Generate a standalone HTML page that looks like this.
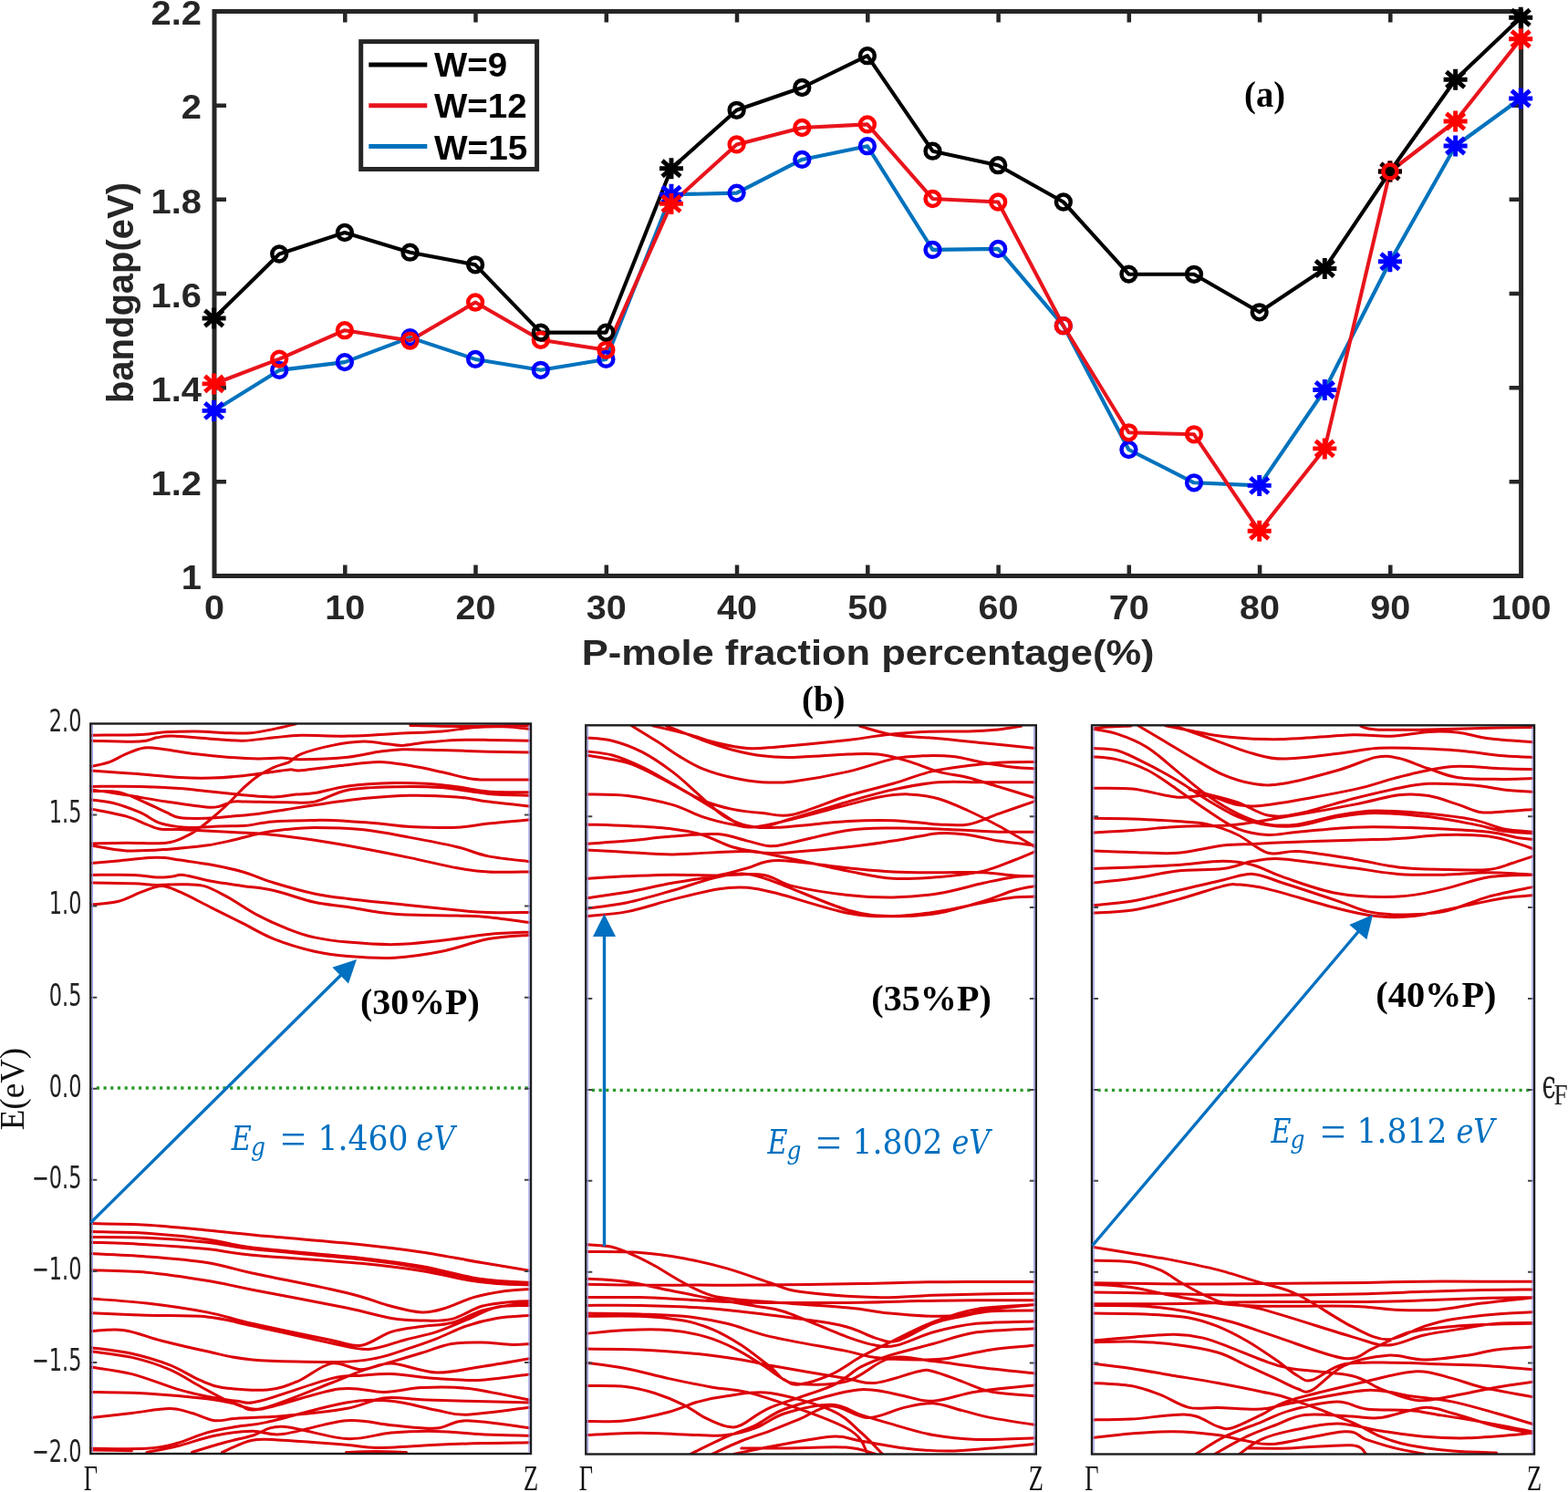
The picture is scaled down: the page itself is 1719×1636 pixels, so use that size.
<!DOCTYPE html>
<html><head><meta charset="utf-8"><title>Bandgap figure</title>
<style>html,body{margin:0;padding:0;background:#fff;} svg{display:block;}</style></head>
<body>
<svg width="1719" height="1636" viewBox="0 0 1719 1636">
<rect width="1719" height="1636" fill="#fff"/>
<rect x="235.0" y="12.5" width="1432.6" height="619.0" fill="none" stroke="#262626" stroke-width="5"/>
<path d="M378.3,631.5V619.5M378.3,12.5V24.5M521.5,631.5V619.5M521.5,12.5V24.5M664.8,631.5V619.5M664.8,12.5V24.5M808.0,631.5V619.5M808.0,12.5V24.5M951.3,631.5V619.5M951.3,12.5V24.5M1094.6,631.5V619.5M1094.6,12.5V24.5M1237.8,631.5V619.5M1237.8,12.5V24.5M1381.1,631.5V619.5M1381.1,12.5V24.5M1524.3,631.5V619.5M1524.3,12.5V24.5M235.0,115.7H248.0M1667.6,115.7H1654.6M235.0,218.8H248.0M1667.6,218.8H1654.6M235.0,322.0H248.0M1667.6,322.0H1654.6M235.0,425.2H248.0M1667.6,425.2H1654.6M235.0,528.3H248.0M1667.6,528.3H1654.6" stroke="#262626" stroke-width="4.5" fill="none"/>
<text transform="translate(235.0,678.6) scale(1.06,1)" font-family="Liberation Sans, Arial, sans-serif" font-weight="bold" font-size="37.3" fill="#262626" text-anchor="middle">0</text>
<text transform="translate(378.3,678.6) scale(1.06,1)" font-family="Liberation Sans, Arial, sans-serif" font-weight="bold" font-size="37.3" fill="#262626" text-anchor="middle">10</text>
<text transform="translate(521.5,678.6) scale(1.06,1)" font-family="Liberation Sans, Arial, sans-serif" font-weight="bold" font-size="37.3" fill="#262626" text-anchor="middle">20</text>
<text transform="translate(664.8,678.6) scale(1.06,1)" font-family="Liberation Sans, Arial, sans-serif" font-weight="bold" font-size="37.3" fill="#262626" text-anchor="middle">30</text>
<text transform="translate(808.0,678.6) scale(1.06,1)" font-family="Liberation Sans, Arial, sans-serif" font-weight="bold" font-size="37.3" fill="#262626" text-anchor="middle">40</text>
<text transform="translate(951.3,678.6) scale(1.06,1)" font-family="Liberation Sans, Arial, sans-serif" font-weight="bold" font-size="37.3" fill="#262626" text-anchor="middle">50</text>
<text transform="translate(1094.6,678.6) scale(1.06,1)" font-family="Liberation Sans, Arial, sans-serif" font-weight="bold" font-size="37.3" fill="#262626" text-anchor="middle">60</text>
<text transform="translate(1237.8,678.6) scale(1.06,1)" font-family="Liberation Sans, Arial, sans-serif" font-weight="bold" font-size="37.3" fill="#262626" text-anchor="middle">70</text>
<text transform="translate(1381.1,678.6) scale(1.06,1)" font-family="Liberation Sans, Arial, sans-serif" font-weight="bold" font-size="37.3" fill="#262626" text-anchor="middle">80</text>
<text transform="translate(1524.3,678.6) scale(1.06,1)" font-family="Liberation Sans, Arial, sans-serif" font-weight="bold" font-size="37.3" fill="#262626" text-anchor="middle">90</text>
<text transform="translate(1667.6,678.6) scale(1.06,1)" font-family="Liberation Sans, Arial, sans-serif" font-weight="bold" font-size="37.3" fill="#262626" text-anchor="middle">100</text>
<text transform="translate(221,27.2) scale(1.07,1)" font-family="Liberation Sans, Arial, sans-serif" font-weight="bold" font-size="37.3" fill="#262626" text-anchor="end">2.2</text>
<text transform="translate(221,130.4) scale(1.07,1)" font-family="Liberation Sans, Arial, sans-serif" font-weight="bold" font-size="37.3" fill="#262626" text-anchor="end">2</text>
<text transform="translate(221,233.5) scale(1.07,1)" font-family="Liberation Sans, Arial, sans-serif" font-weight="bold" font-size="37.3" fill="#262626" text-anchor="end">1.8</text>
<text transform="translate(221,336.7) scale(1.07,1)" font-family="Liberation Sans, Arial, sans-serif" font-weight="bold" font-size="37.3" fill="#262626" text-anchor="end">1.6</text>
<text transform="translate(221,439.9) scale(1.07,1)" font-family="Liberation Sans, Arial, sans-serif" font-weight="bold" font-size="37.3" fill="#262626" text-anchor="end">1.4</text>
<text transform="translate(221,543.0) scale(1.07,1)" font-family="Liberation Sans, Arial, sans-serif" font-weight="bold" font-size="37.3" fill="#262626" text-anchor="end">1.2</text>
<text transform="translate(221,646.2) scale(1.07,1)" font-family="Liberation Sans, Arial, sans-serif" font-weight="bold" font-size="37.3" fill="#262626" text-anchor="end">1</text>
<text x="637.8" y="729" font-family="Liberation Sans, Arial, sans-serif" font-weight="bold" font-size="38.7" fill="#262626" textLength="627.8" lengthAdjust="spacingAndGlyphs">P-mole fraction percentage(%)</text>
<text transform="translate(146,321) rotate(-90)" font-family="Liberation Sans, Arial, sans-serif" font-weight="bold" font-size="40" fill="#262626" text-anchor="middle">bandgap(eV)</text>
<polyline points="234.6,450.4 306.2,405.9 377.9,397.1 449.5,370.1 521.1,393.9 592.8,405.8 664.4,393.9 736.0,213.3 807.6,211.6 879.3,174.9 950.9,160.2 1022.5,273.9 1094.2,272.9 1165.8,357.2 1237.4,493.0 1309.0,529.3 1380.7,532.4 1452.3,427.5 1523.9,286.8 1595.6,160.0 1667.2,108.0" stroke="#0072BD" stroke-width="4.1" fill="none" stroke-linejoin="round"/>
<polyline points="234.6,420.9 306.2,393.6 377.9,362.2 449.5,373.6 521.1,331.5 592.8,372.8 664.4,383.8 736.0,223.4 807.6,158.4 879.3,140.0 950.9,136.4 1022.5,218.0 1094.2,221.5 1165.8,357.2 1237.4,474.3 1309.0,476.3 1380.7,582.3 1452.3,491.9 1523.9,188.0 1595.6,133.0 1667.2,42.8" stroke="#E8141C" stroke-width="4.1" fill="none" stroke-linejoin="round"/>
<polyline points="234.6,349.0 306.2,278.5 377.9,255.0 449.5,276.7 521.1,290.3 592.8,364.6 664.4,364.6 736.0,184.8 807.6,120.8 879.3,96.0 950.9,61.2 1022.5,165.7 1094.2,181.2 1165.8,221.5 1237.4,300.6 1309.0,300.8 1380.7,342.3 1452.3,294.5 1523.9,188.0 1595.6,87.3 1667.2,19.2" stroke="#000000" stroke-width="4.1" fill="none" stroke-linejoin="round"/>
<path d="M221.6,450.4H247.6M234.6,438.9V461.9M224.6,441.8L244.6,459.0M224.6,459.0L244.6,441.8" stroke="#0000FF" stroke-width="4.9" fill="none"/>
<circle cx="306.2" cy="405.9" r="7.9" stroke="#0000FF" stroke-width="4.5" fill="none"/>
<circle cx="377.9" cy="397.1" r="7.9" stroke="#0000FF" stroke-width="4.5" fill="none"/>
<circle cx="449.5" cy="370.1" r="7.9" stroke="#0000FF" stroke-width="4.5" fill="none"/>
<circle cx="521.1" cy="393.9" r="7.9" stroke="#0000FF" stroke-width="4.5" fill="none"/>
<circle cx="592.8" cy="405.8" r="7.9" stroke="#0000FF" stroke-width="4.5" fill="none"/>
<circle cx="664.4" cy="393.9" r="7.9" stroke="#0000FF" stroke-width="4.5" fill="none"/>
<path d="M723.0,213.3H749.0M736.0,201.8V224.8M726.0,204.7L746.0,221.9M726.0,221.9L746.0,204.7" stroke="#0000FF" stroke-width="4.9" fill="none"/>
<circle cx="807.6" cy="211.6" r="7.9" stroke="#0000FF" stroke-width="4.5" fill="none"/>
<circle cx="879.3" cy="174.9" r="7.9" stroke="#0000FF" stroke-width="4.5" fill="none"/>
<circle cx="950.9" cy="160.2" r="7.9" stroke="#0000FF" stroke-width="4.5" fill="none"/>
<circle cx="1022.5" cy="273.9" r="7.9" stroke="#0000FF" stroke-width="4.5" fill="none"/>
<circle cx="1094.2" cy="272.9" r="7.9" stroke="#0000FF" stroke-width="4.5" fill="none"/>
<circle cx="1165.8" cy="357.2" r="7.9" stroke="#0000FF" stroke-width="4.5" fill="none"/>
<circle cx="1237.4" cy="493.0" r="7.9" stroke="#0000FF" stroke-width="4.5" fill="none"/>
<circle cx="1309.0" cy="529.3" r="7.9" stroke="#0000FF" stroke-width="4.5" fill="none"/>
<path d="M1367.7,532.4H1393.7M1380.7,520.9V543.9M1370.7,523.8L1390.7,541.0M1370.7,541.0L1390.7,523.8" stroke="#0000FF" stroke-width="4.9" fill="none"/>
<path d="M1439.3,427.5H1465.3M1452.3,416.0V439.0M1442.3,418.9L1462.3,436.1M1442.3,436.1L1462.3,418.9" stroke="#0000FF" stroke-width="4.9" fill="none"/>
<path d="M1510.9,286.8H1536.9M1523.9,275.3V298.3M1513.9,278.2L1533.9,295.4M1513.9,295.4L1533.9,278.2" stroke="#0000FF" stroke-width="4.9" fill="none"/>
<path d="M1582.6,160.0H1608.6M1595.6,148.5V171.5M1585.6,151.4L1605.6,168.6M1585.6,168.6L1605.6,151.4" stroke="#0000FF" stroke-width="4.9" fill="none"/>
<path d="M1654.2,108.0H1680.2M1667.2,96.5V119.5M1657.2,99.4L1677.2,116.6M1657.2,116.6L1677.2,99.4" stroke="#0000FF" stroke-width="4.9" fill="none"/>
<path d="M221.6,420.9H247.6M234.6,409.4V432.4M224.6,412.3L244.6,429.5M224.6,429.5L244.6,412.3" stroke="#FF0000" stroke-width="4.9" fill="none"/>
<circle cx="306.2" cy="393.6" r="7.9" stroke="#FF0000" stroke-width="4.5" fill="none"/>
<circle cx="377.9" cy="362.2" r="7.9" stroke="#FF0000" stroke-width="4.5" fill="none"/>
<circle cx="449.5" cy="373.6" r="7.9" stroke="#FF0000" stroke-width="4.5" fill="none"/>
<circle cx="521.1" cy="331.5" r="7.9" stroke="#FF0000" stroke-width="4.5" fill="none"/>
<circle cx="592.8" cy="372.8" r="7.9" stroke="#FF0000" stroke-width="4.5" fill="none"/>
<circle cx="664.4" cy="383.8" r="7.9" stroke="#FF0000" stroke-width="4.5" fill="none"/>
<path d="M723.0,223.4H749.0M736.0,211.9V234.9M726.0,214.8L746.0,232.0M726.0,232.0L746.0,214.8" stroke="#FF0000" stroke-width="4.9" fill="none"/>
<circle cx="807.6" cy="158.4" r="7.9" stroke="#FF0000" stroke-width="4.5" fill="none"/>
<circle cx="879.3" cy="140.0" r="7.9" stroke="#FF0000" stroke-width="4.5" fill="none"/>
<circle cx="950.9" cy="136.4" r="7.9" stroke="#FF0000" stroke-width="4.5" fill="none"/>
<circle cx="1022.5" cy="218.0" r="7.9" stroke="#FF0000" stroke-width="4.5" fill="none"/>
<circle cx="1094.2" cy="221.5" r="7.9" stroke="#FF0000" stroke-width="4.5" fill="none"/>
<circle cx="1165.8" cy="357.2" r="7.9" stroke="#FF0000" stroke-width="4.5" fill="none"/>
<circle cx="1237.4" cy="474.3" r="7.9" stroke="#FF0000" stroke-width="4.5" fill="none"/>
<circle cx="1309.0" cy="476.3" r="7.9" stroke="#FF0000" stroke-width="4.5" fill="none"/>
<path d="M1367.7,582.3H1393.7M1380.7,570.8V593.8M1370.7,573.7L1390.7,590.9M1370.7,590.9L1390.7,573.7" stroke="#FF0000" stroke-width="4.9" fill="none"/>
<path d="M1439.3,491.9H1465.3M1452.3,480.4V503.4M1442.3,483.3L1462.3,500.5M1442.3,500.5L1462.3,483.3" stroke="#FF0000" stroke-width="4.9" fill="none"/>
<path d="M1510.9,188.0H1536.9M1523.9,176.5V199.5M1513.9,179.4L1533.9,196.6M1513.9,196.6L1533.9,179.4" stroke="#FF0000" stroke-width="4.9" fill="none"/>
<path d="M1582.6,133.0H1608.6M1595.6,121.5V144.5M1585.6,124.4L1605.6,141.6M1585.6,141.6L1605.6,124.4" stroke="#FF0000" stroke-width="4.9" fill="none"/>
<path d="M1654.2,42.8H1680.2M1667.2,31.3V54.3M1657.2,34.2L1677.2,51.4M1657.2,51.4L1677.2,34.2" stroke="#FF0000" stroke-width="4.9" fill="none"/>
<path d="M221.6,349.0H247.6M234.6,337.5V360.5M224.6,340.4L244.6,357.6M224.6,357.6L244.6,340.4" stroke="#000000" stroke-width="4.9" fill="none"/>
<circle cx="306.2" cy="278.5" r="7.9" stroke="#000000" stroke-width="4.5" fill="none"/>
<circle cx="377.9" cy="255.0" r="7.9" stroke="#000000" stroke-width="4.5" fill="none"/>
<circle cx="449.5" cy="276.7" r="7.9" stroke="#000000" stroke-width="4.5" fill="none"/>
<circle cx="521.1" cy="290.3" r="7.9" stroke="#000000" stroke-width="4.5" fill="none"/>
<circle cx="592.8" cy="364.6" r="7.9" stroke="#000000" stroke-width="4.5" fill="none"/>
<circle cx="664.4" cy="364.6" r="7.9" stroke="#000000" stroke-width="4.5" fill="none"/>
<path d="M723.0,184.8H749.0M736.0,173.3V196.3M726.0,176.2L746.0,193.4M726.0,193.4L746.0,176.2" stroke="#000000" stroke-width="4.9" fill="none"/>
<circle cx="807.6" cy="120.8" r="7.9" stroke="#000000" stroke-width="4.5" fill="none"/>
<circle cx="879.3" cy="96.0" r="7.9" stroke="#000000" stroke-width="4.5" fill="none"/>
<circle cx="950.9" cy="61.2" r="7.9" stroke="#000000" stroke-width="4.5" fill="none"/>
<circle cx="1022.5" cy="165.7" r="7.9" stroke="#000000" stroke-width="4.5" fill="none"/>
<circle cx="1094.2" cy="181.2" r="7.9" stroke="#000000" stroke-width="4.5" fill="none"/>
<circle cx="1165.8" cy="221.5" r="7.9" stroke="#000000" stroke-width="4.5" fill="none"/>
<circle cx="1237.4" cy="300.6" r="7.9" stroke="#000000" stroke-width="4.5" fill="none"/>
<circle cx="1309.0" cy="300.8" r="7.9" stroke="#000000" stroke-width="4.5" fill="none"/>
<circle cx="1380.7" cy="342.3" r="7.9" stroke="#000000" stroke-width="4.5" fill="none"/>
<path d="M1439.3,294.5H1465.3M1452.3,283.0V306.0M1442.3,285.9L1462.3,303.1M1442.3,303.1L1462.3,285.9" stroke="#000000" stroke-width="4.9" fill="none"/>
<path d="M1510.9,188.0H1536.9M1523.9,176.5V199.5M1513.9,179.4L1533.9,196.6M1513.9,196.6L1533.9,179.4" stroke="#000000" stroke-width="4.9" fill="none"/>
<path d="M1582.6,87.3H1608.6M1595.6,75.8V98.8M1585.6,78.7L1605.6,95.9M1585.6,95.9L1605.6,78.7" stroke="#000000" stroke-width="4.9" fill="none"/>
<path d="M1654.2,19.2H1680.2M1667.2,7.7V30.7M1657.2,10.6L1677.2,27.8M1657.2,27.8L1677.2,10.6" stroke="#000000" stroke-width="4.9" fill="none"/>
<circle cx="1523.9" cy="188.0" r="7.5" stroke="#FF0000" stroke-width="4.5" fill="none"/>
<circle cx="1523.9" cy="188" r="3.5" fill="#000"/>
<rect x="395.7" y="45.6" width="192.9" height="139.9" fill="#fff" stroke="#262626" stroke-width="5"/>
<line x1="404.3" y1="71" x2="468.3" y2="71" stroke="#000000" stroke-width="5"/>
<line x1="404.3" y1="115.7" x2="468.3" y2="115.7" stroke="#E8141C" stroke-width="5"/>
<line x1="404.3" y1="160.5" x2="468.3" y2="160.5" stroke="#0072BD" stroke-width="5"/>
<text x="476" y="84.4" font-family="Liberation Sans, Arial, sans-serif" font-weight="bold" font-size="37.3" fill="#000" lengthAdjust="spacingAndGlyphs" textLength="80">W=9</text>
<text x="476" y="129.2" font-family="Liberation Sans, Arial, sans-serif" font-weight="bold" font-size="37.3" fill="#000" lengthAdjust="spacingAndGlyphs" textLength="101.7">W=12</text>
<text x="476" y="174.6" font-family="Liberation Sans, Arial, sans-serif" font-weight="bold" font-size="37.3" fill="#000" lengthAdjust="spacingAndGlyphs" textLength="102.4">W=15</text>
<text x="1364.1" y="116.5" font-family="Liberation Serif, Times New Roman, serif" font-weight="bold" font-size="40.5" fill="#000" textLength="45" lengthAdjust="spacingAndGlyphs">(a)</text>
<text x="879" y="780" font-family="Liberation Serif, Times New Roman, serif" font-weight="bold" font-size="39" fill="#000" textLength="47.6" lengthAdjust="spacingAndGlyphs">(b)</text>
<clipPath id="clip0"><rect x="99.3" y="793.5" width="482.7" height="800.5"/></clipPath>
<line x1="105.8" y1="1193.0" x2="580.0" y2="1193.0" stroke="#2a9a2a" stroke-width="3.3" stroke-dasharray="3.2 4.5"/>
<path clip-path="url(#clip0)" d="M100.0,806.3C109.2,806.1 141.5,806.0 154.9,805.4C168.3,804.8 170.6,803.4 180.6,802.8C190.6,802.2 203.4,801.9 214.8,802.0C226.2,802.1 239.0,803.4 249.0,803.7C259.0,804.0 266.1,804.4 274.7,803.7C283.2,803.0 292.0,801.0 300.3,799.4C308.6,797.8 320.3,794.7 324.3,793.8M100.0,812.2C108.9,812.4 141.2,813.7 153.2,813.1C165.2,812.5 166.0,809.8 172.0,808.8C178.0,807.8 179.1,806.9 189.1,807.1C199.1,807.3 219.1,809.4 231.9,810.2C244.7,811.1 254.7,812.4 266.1,812.2C277.5,812.0 289.7,809.8 300.3,808.8C310.9,807.8 316.5,806.6 330.0,806.3C343.5,806.0 364.3,807.4 381.4,807.1C398.5,806.8 415.6,805.4 432.7,804.5C449.8,803.6 469.8,803.1 484.1,802.0C498.4,800.9 506.9,798.6 518.3,797.7C529.7,796.8 541.9,796.5 552.5,796.8C563.1,797.1 577.1,799.0 582.0,799.4M449.8,795.5C458.4,795.7 485.5,796.4 501.2,796.5C516.9,796.6 530.5,796.2 544.0,796.0C557.5,795.8 575.7,795.6 582.0,795.5M100.0,840.5C103.5,839.6 114.4,837.6 120.7,835.3C127.0,833.0 131.5,829.4 137.8,826.8C144.1,824.2 151.2,820.8 158.3,819.9C165.4,819.0 171.2,820.6 180.6,821.7C190.0,822.9 203.4,825.4 214.8,826.8C226.2,828.2 237.6,829.4 249.0,830.2C260.4,831.1 273.2,831.8 283.2,831.9C293.2,832.0 301.1,831.0 308.9,831.1C316.7,831.2 317.9,832.9 330.0,832.8C342.1,832.6 367.1,831.6 381.4,830.2C395.7,828.8 405.6,825.6 415.6,824.2C425.6,822.8 429.9,822.0 441.3,821.7C452.7,821.4 468.4,822.1 484.1,822.5C499.8,822.9 519.1,823.8 535.4,824.2C551.7,824.6 574.2,825.0 582.0,825.1M100.0,924.9C106.4,924.8 124.9,924.3 138.6,924.2C152.3,924.1 171.4,925.4 182.3,924.2C193.2,923.0 198.1,919.6 204.1,916.9C210.1,914.2 213.8,911.6 218.6,908.2C223.4,904.8 228.3,900.6 233.2,896.5C238.0,892.4 244.1,886.9 247.7,883.5C251.3,880.1 251.4,879.9 255.0,876.2C258.6,872.6 264.6,866.0 269.5,861.6C274.4,857.2 279.0,853.4 284.1,850.0C289.2,846.6 294.7,843.8 300.3,841.3C305.9,838.8 312.6,837.7 317.5,835.3C322.4,832.9 322.2,829.8 330.0,826.8C337.8,823.8 352.8,819.7 364.2,817.4C375.6,815.1 388.5,813.4 398.5,813.1C408.5,812.8 417.0,815.0 424.1,815.7C431.2,816.4 434.2,817.7 441.3,817.4C448.4,817.1 456.9,815.0 466.9,814.0C476.9,813.0 489.8,811.8 501.2,811.4C512.6,811.0 521.9,811.2 535.4,811.4C548.9,811.5 574.2,812.1 582.0,812.3M100.0,845.1C107.7,845.6 130.0,847.0 146.3,848.2C162.6,849.4 183.4,851.7 197.7,852.5C212.0,853.3 220.5,853.3 231.9,853.0C243.3,852.7 256.1,851.7 266.1,850.7C276.1,849.8 283.2,848.4 291.8,847.3C300.4,846.2 311.1,844.3 317.5,843.9C323.9,843.5 320.8,845.5 330.0,844.8C339.2,844.1 358.5,841.2 372.8,839.6C387.1,838.0 402.8,835.4 415.6,835.4C428.4,835.4 438.4,837.8 449.8,839.6C461.2,841.5 472.7,844.1 484.1,846.5C495.5,848.9 506.9,852.8 518.3,854.2C529.7,855.6 541.9,854.9 552.5,855.0C563.1,855.1 577.1,855.0 582.0,855.0M100.0,862.4C108.9,862.4 137.1,862.0 153.2,862.4C169.3,862.8 184.7,863.6 196.8,864.5C208.9,865.4 216.2,866.5 225.9,867.5C235.6,868.5 247.7,869.6 255.0,870.4C262.4,871.1 262.5,871.4 270.0,872.0C277.5,872.6 290.8,874.2 300.0,874.0C309.2,873.8 317.5,871.7 325.0,871.0C332.5,870.3 335.6,871.1 345.0,869.6C354.4,868.1 366.8,863.8 381.4,861.9C396.0,860.0 418.4,858.9 432.7,858.5C446.9,858.1 455.5,858.6 466.9,859.3C478.3,860.0 489.8,861.3 501.2,862.7C512.6,864.1 521.9,866.9 535.4,867.9C548.9,868.9 574.2,868.6 582.0,868.7M100.0,866.0C106.4,867.0 124.9,869.6 138.6,871.8C152.3,874.0 167.8,876.9 182.3,879.1C196.9,881.3 216.2,884.0 225.9,884.9C235.6,885.8 235.6,885.2 240.4,884.2C245.2,883.2 250.2,880.0 255.0,879.1C259.9,878.2 259.8,879.0 269.5,879.1C279.2,879.2 300.6,879.8 313.2,879.8C325.8,879.8 333.6,881.4 345.0,879.1C356.4,876.8 366.8,868.9 381.4,866.2C396.0,863.5 415.6,863.1 432.7,862.7C449.8,862.3 467.0,862.3 484.1,863.6C501.2,864.9 519.1,869.0 535.4,870.4C551.7,871.8 574.2,871.9 582.0,872.2M100.0,867.5C105.2,867.7 121.3,866.7 131.4,868.9C141.5,871.1 151.9,876.9 160.4,880.5C168.9,884.1 176.2,888.0 182.3,890.7C188.4,893.4 189.5,895.4 196.8,896.5C204.1,897.6 216.2,897.5 225.9,897.3C235.6,897.1 245.3,896.0 255.0,895.1C264.7,894.2 274.4,893.4 284.1,892.2C293.8,891.0 303.1,889.4 313.2,887.8C323.3,886.2 330.8,884.7 345.0,882.7C359.2,880.7 381.0,877.4 398.5,875.6C416.0,873.9 432.7,872.5 449.8,872.2C466.9,871.9 486.9,872.8 501.2,873.9C515.5,875.0 521.9,877.3 535.4,879.0C548.9,880.7 574.2,883.2 582.0,884.1M100.0,876.9C104.0,877.5 115.2,878.2 124.1,880.5C133.0,882.8 144.7,887.1 153.2,890.7C161.7,894.4 167.7,899.7 175.0,902.4C182.3,905.1 190.8,905.9 196.8,906.7C202.9,907.5 204.0,907.5 211.3,907.4C218.6,907.3 230.7,906.4 240.4,906.0C250.1,905.6 259.8,906.1 269.5,905.3C279.2,904.4 286.0,901.9 298.6,900.9C311.2,899.9 334.1,899.6 345.0,899.4C355.9,899.2 352.4,899.0 364.2,899.6C376.0,900.2 401.3,901.9 415.6,903.0C429.9,904.1 435.5,905.7 449.8,906.4C464.1,907.1 486.9,907.9 501.2,907.3C515.5,906.7 521.9,904.4 535.4,903.0C548.9,901.6 574.2,899.4 582.0,898.7M100.0,887.1C106.4,888.4 128.5,892.3 138.6,895.1C148.7,897.9 154.3,901.5 160.4,903.8C166.5,906.1 168.9,907.9 175.0,908.9C181.1,909.9 188.3,909.2 196.8,909.6C205.3,910.0 216.2,910.6 225.9,911.1C235.6,911.6 245.3,912.0 255.0,912.5C264.7,913.0 274.4,913.3 284.1,914.0C293.8,914.7 303.1,915.7 313.2,916.9C323.3,918.1 330.8,919.0 345.0,921.3C359.2,923.5 381.0,927.2 398.5,930.4C416.0,933.6 432.7,937.0 449.8,940.6C466.9,944.2 486.9,949.2 501.2,951.8C515.5,954.4 521.9,955.3 535.4,956.0C548.9,956.7 574.2,956.0 582.0,956.0M100.0,927.1C106.4,928.1 124.9,932.2 138.6,932.9C152.3,933.6 167.8,932.4 182.3,931.4C196.9,930.4 213.8,928.8 225.9,927.1C238.0,925.4 245.3,923.5 255.0,921.3C264.7,919.1 274.4,916.0 284.1,914.0C293.8,912.0 303.1,910.7 313.2,909.6C323.3,908.5 330.8,907.4 345.0,907.4C359.2,907.4 381.0,908.0 398.5,909.8C416.0,911.6 432.7,915.2 449.8,918.4C466.9,921.5 486.9,925.3 501.2,928.7C515.5,932.1 521.9,936.2 535.4,938.9C548.9,941.6 574.2,943.9 582.0,944.9M100.0,946.6C104.9,946.2 118.6,945.0 129.2,944.0C139.8,943.0 154.8,941.2 163.4,940.6C172.0,940.0 174.9,940.2 180.6,940.6C186.3,941.0 189.1,941.8 197.7,943.1C206.2,944.4 220.5,946.1 231.9,948.3C243.3,950.4 254.7,952.7 266.1,956.0C277.5,959.3 287.2,964.0 300.3,968.0C313.4,972.0 331.3,977.1 344.8,980.0C358.3,982.9 363.9,983.4 381.4,985.5C398.9,987.6 429.8,990.7 449.8,992.8C469.8,994.9 486.9,996.7 501.2,998.0C515.5,999.3 521.9,1000.1 535.4,1000.5C548.9,1000.9 574.2,1000.5 582.0,1000.5M100.0,959.4C107.7,959.4 134.3,959.0 146.3,959.4C158.3,959.8 164.9,961.7 172.0,962.0C179.1,962.3 184.2,961.5 189.1,961.1C193.9,960.7 194.0,958.5 201.1,959.4C208.2,960.2 221.1,964.2 231.9,966.2C242.7,968.2 254.7,969.7 266.1,971.4C277.5,973.1 287.2,973.5 300.3,976.5C313.4,979.5 331.3,986.3 344.8,989.3C358.3,992.3 366.8,992.4 381.4,994.6C396.0,996.8 412.7,1000.7 432.7,1002.3C452.7,1003.9 484.1,1003.4 501.2,1004.0C518.3,1004.6 521.9,1004.4 535.4,1005.7C548.9,1007.0 574.2,1010.7 582.0,1011.7M100.0,968.0C107.7,968.1 134.3,968.4 146.3,968.8C158.3,969.2 163.4,970.4 172.0,970.5C180.6,970.6 189.1,969.6 197.7,969.7C206.2,969.9 214.8,969.1 223.3,971.4C231.9,973.7 239.0,978.0 249.0,983.4C259.0,988.8 271.8,997.9 283.2,1003.9C294.6,1009.9 307.2,1015.3 317.5,1019.3C327.8,1023.3 334.2,1025.6 344.8,1027.9C355.4,1030.2 366.8,1031.8 381.4,1033.1C396.0,1034.4 415.6,1035.9 432.7,1035.6C449.8,1035.3 467.0,1033.1 484.1,1031.3C501.2,1029.5 519.1,1026.0 535.4,1024.5C551.7,1023.0 574.2,1022.4 582.0,1022.0M100.0,991.9C104.9,991.3 120.0,990.8 129.2,988.5C138.3,986.2 146.9,981.1 154.9,978.2C162.9,975.4 170.0,971.4 177.1,971.4C184.2,971.4 188.6,974.2 197.7,978.2C206.8,982.2 220.5,989.6 231.9,995.3C243.3,1001.0 254.7,1006.7 266.1,1012.4C277.5,1018.1 287.2,1024.4 300.3,1029.6C313.4,1034.8 331.3,1040.1 344.8,1043.3C358.3,1046.5 366.8,1047.3 381.4,1048.5C396.0,1049.7 415.6,1051.1 432.7,1050.2C449.8,1049.3 467.0,1046.7 484.1,1043.3C501.2,1039.9 519.1,1032.6 535.4,1029.6C551.7,1026.6 574.2,1026.0 582.0,1025.3M100.0,1341.6C110.1,1341.8 139.8,1342.0 161.0,1343.2C182.2,1344.4 205.0,1346.9 227.0,1349.0C249.0,1351.0 264.9,1353.0 293.0,1355.6C321.2,1358.2 367.9,1361.8 396.0,1364.7C424.2,1367.6 440.0,1369.6 462.1,1372.9C484.1,1376.2 508.0,1381.0 528.1,1384.5C548.2,1387.9 573.5,1392.0 582.6,1393.6M100.0,1350.6C110.1,1350.9 139.8,1350.9 161.0,1352.3C182.2,1353.7 207.8,1356.3 227.0,1358.9C246.3,1361.5 248.3,1364.5 276.5,1368.0C304.7,1371.4 365.1,1376.1 396.0,1379.5C427.0,1383.0 440.0,1384.7 462.1,1388.6C484.1,1392.5 508.0,1399.7 528.1,1402.6C548.2,1405.6 573.5,1405.7 582.6,1406.3M100.0,1356.4C110.1,1356.5 139.8,1356.3 161.0,1357.2C182.2,1358.2 207.8,1360.1 227.0,1362.2C246.3,1364.2 248.3,1366.5 276.5,1369.6C304.7,1372.7 365.1,1377.4 396.0,1380.8C427.0,1384.3 440.0,1386.4 462.1,1390.3C484.1,1394.1 508.0,1401.1 528.1,1404.0C548.2,1406.8 573.5,1407.0 582.6,1407.6M100.0,1362.2C110.1,1362.6 139.8,1363.4 161.0,1364.7C182.2,1365.9 207.8,1367.7 227.0,1369.6C246.3,1371.5 248.3,1373.6 276.5,1376.2C304.7,1378.8 365.1,1382.4 396.0,1385.3C427.0,1388.2 442.8,1390.5 462.1,1393.6C481.3,1396.6 497.8,1401.1 511.6,1403.5C525.3,1405.8 532.8,1406.7 544.6,1407.6C556.4,1408.5 576.2,1408.7 582.6,1408.9M100.0,1374.6C110.1,1375.1 139.8,1376.2 161.0,1377.9C182.2,1379.5 207.8,1381.4 227.0,1384.5C246.3,1387.5 251.1,1390.5 276.5,1396.0C301.9,1401.5 354.1,1411.4 379.5,1417.5C404.9,1423.5 415.3,1428.8 429.0,1432.3C442.8,1435.9 452.4,1438.5 462.1,1438.9C471.7,1439.4 477.2,1437.6 486.8,1434.8C496.4,1432.1 508.8,1425.6 519.8,1422.4C530.8,1419.3 542.4,1417.4 552.8,1415.8C563.3,1414.3 577.6,1413.8 582.6,1413.4M100.0,1392.7C110.1,1393.1 139.8,1393.3 161.0,1395.2C182.2,1397.1 207.8,1401.1 227.0,1404.3C246.3,1407.4 251.1,1409.2 276.5,1414.2C301.9,1419.1 354.1,1428.8 379.5,1434.0C404.9,1439.2 415.3,1443.2 429.0,1445.5C442.8,1447.9 451.1,1447.9 462.1,1448.0C473.1,1448.2 484.1,1449.0 495.1,1446.4C506.1,1443.8 517.1,1435.5 528.1,1432.3C539.1,1429.2 552.0,1428.4 561.1,1427.4C570.2,1426.4 579.0,1426.7 582.6,1426.6M100.0,1424.1C110.1,1424.9 139.8,1426.5 161.0,1429.0C182.2,1431.5 207.8,1435.2 227.0,1438.9C246.3,1442.6 253.9,1446.2 276.5,1451.3C299.2,1456.4 343.1,1465.5 363.0,1469.5C382.9,1473.5 385.0,1476.8 396.0,1475.3C407.0,1473.7 418.0,1463.8 429.0,1460.4C440.0,1457.0 451.1,1456.3 462.1,1454.6C473.1,1453.0 484.1,1453.4 495.1,1450.5C506.1,1447.6 517.1,1440.6 528.1,1437.3C539.1,1434.0 552.0,1432.1 561.1,1430.7C570.2,1429.3 579.0,1429.3 582.6,1429.0M100.0,1439.7C110.1,1440.1 139.8,1441.5 161.0,1442.2C182.2,1442.9 207.8,1441.9 227.0,1443.9C246.3,1445.8 253.9,1448.9 276.5,1453.8C299.2,1458.6 341.7,1468.5 363.0,1472.8C384.3,1477.1 390.5,1480.1 404.3,1479.4C418.0,1478.7 433.2,1471.8 445.5,1468.7C457.9,1465.5 467.6,1464.0 478.6,1460.4C489.6,1456.8 500.6,1451.7 511.6,1447.2C522.6,1442.7 532.8,1435.8 544.6,1433.2C556.4,1430.6 576.2,1431.8 582.6,1431.5M100.0,1459.5C106.0,1459.4 123.3,1456.9 136.3,1458.7C149.2,1460.5 162.4,1466.4 177.5,1470.3C192.6,1474.1 210.5,1478.4 227.0,1481.8C243.5,1485.3 252.5,1489.0 276.5,1490.9C300.6,1492.8 348.6,1493.7 371.3,1493.4C393.9,1493.2 400.2,1491.6 412.5,1489.3C424.9,1487.0 434.5,1483.0 445.5,1479.4C456.6,1475.8 467.6,1472.1 478.6,1467.8C489.6,1463.6 500.6,1457.5 511.6,1453.8C522.6,1450.1 532.8,1447.5 544.6,1445.5C556.4,1443.6 576.2,1442.8 582.6,1442.2M100.0,1477.7C107.4,1478.8 130.2,1481.1 144.5,1484.3C158.8,1487.5 173.4,1491.9 185.8,1496.7C198.1,1501.5 209.1,1509.0 218.8,1513.2C228.4,1517.3 231.1,1519.6 243.5,1521.4C255.9,1523.2 279.3,1525.0 293.0,1523.9C306.8,1522.8 314.4,1519.6 326.0,1514.8C337.7,1510.0 351.3,1497.3 363.0,1495.1C374.7,1492.9 385.0,1501.7 396.0,1501.7C407.0,1501.7 415.3,1494.5 429.0,1495.1C442.8,1495.6 462.1,1504.4 478.6,1505.0C495.1,1505.5 510.8,1501.0 528.1,1498.4C545.4,1495.8 573.5,1490.8 582.6,1489.3M100.0,1481.8C107.4,1482.9 130.2,1485.1 144.5,1488.4C158.8,1491.7 173.4,1496.4 185.8,1501.6C198.1,1506.8 209.1,1514.5 218.8,1519.8C228.4,1525.0 235.3,1529.1 243.5,1533.0C251.8,1536.8 260.0,1541.2 268.3,1542.9C276.5,1544.5 277.2,1547.3 293.0,1542.9C308.8,1538.5 345.8,1523.1 363.0,1516.5C380.2,1509.9 385.0,1507.2 396.0,1503.3C407.0,1499.5 418.0,1496.7 429.0,1493.4C440.0,1490.1 451.1,1486.8 462.1,1483.5C473.1,1480.2 484.1,1475.5 495.1,1473.6C506.1,1471.7 517.1,1471.8 528.1,1472.0C539.1,1472.1 552.0,1474.2 561.1,1474.4C570.2,1474.7 579.0,1473.7 582.6,1473.6M100.0,1499.1C107.4,1500.4 128.8,1502.6 144.5,1506.6C160.2,1510.6 180.3,1518.9 194.0,1523.1C207.8,1527.2 216.0,1529.1 227.0,1531.3C238.0,1533.5 250.4,1535.4 260.0,1536.3C269.6,1537.1 267.6,1540.4 284.8,1536.3C301.9,1532.2 344.5,1516.2 363.0,1511.6C381.6,1506.9 385.0,1509.1 396.0,1508.3C407.0,1507.5 415.3,1506.1 429.0,1506.6C442.8,1507.2 462.1,1510.5 478.6,1511.6C495.1,1512.7 510.8,1514.1 528.1,1513.2C545.4,1512.4 573.5,1507.7 582.6,1506.6M100.0,1526.4C110.1,1526.6 139.8,1526.8 161.0,1528.0C182.2,1529.3 210.5,1531.9 227.0,1533.8C243.5,1535.7 250.4,1537.6 260.0,1539.6C269.6,1541.5 266.2,1548.1 284.8,1545.3C303.3,1542.6 348.6,1526.3 371.3,1523.1C393.9,1520.0 405.7,1526.7 420.8,1526.4C435.9,1526.2 446.9,1522.2 462.1,1521.5C477.2,1520.8 491.5,1520.0 511.6,1522.3C531.7,1524.6 570.7,1533.3 582.6,1535.5M100.0,1554.4C107.4,1553.6 130.2,1551.1 144.5,1549.5C158.8,1547.8 174.8,1544.5 185.8,1544.5C196.8,1544.5 202.3,1547.3 210.5,1549.5C218.8,1551.7 227.0,1556.8 235.3,1557.7C243.5,1558.7 247.6,1556.1 260.0,1555.2C272.4,1554.4 289.6,1554.5 309.5,1552.8C329.4,1551.0 361.0,1547.9 379.5,1544.6C398.1,1541.3 407.0,1534.7 420.8,1533.0C434.5,1531.4 446.9,1534.1 462.1,1534.7C477.2,1535.2 491.5,1535.8 511.6,1536.3C531.7,1536.9 570.7,1537.7 582.6,1538.0M100.0,1588.3C110.1,1588.3 145.3,1589.2 161.0,1588.3C176.7,1587.3 183.0,1585.4 194.0,1582.5C205.0,1579.6 216.0,1573.9 227.0,1570.9C238.0,1567.9 249.0,1566.2 260.0,1564.3C271.0,1562.4 273.1,1563.8 293.0,1559.4C312.9,1555.0 356.9,1541.8 379.5,1538.0C402.2,1534.2 412.5,1535.0 429.0,1536.3C445.5,1537.7 464.8,1543.8 478.6,1546.2C492.3,1548.7 494.2,1551.7 511.6,1551.2C528.9,1550.6 570.7,1544.3 582.6,1542.9M161.0,1592.4C166.5,1591.3 181.6,1588.8 194.0,1585.8C206.4,1582.8 221.5,1577.0 235.3,1574.2C249.0,1571.5 264.1,1569.5 276.5,1569.3C288.9,1569.0 292.4,1574.5 309.5,1572.6C326.7,1570.7 359.6,1559.4 379.5,1557.8C399.4,1556.2 412.5,1561.4 429.0,1562.8C445.5,1564.1 464.8,1566.9 478.6,1566.1C492.3,1565.2 494.2,1557.8 511.6,1557.8C528.9,1557.8 570.7,1564.7 582.6,1566.1M210.5,1592.4C216.0,1590.7 232.5,1585.5 243.5,1582.5C254.5,1579.4 265.5,1577.2 276.5,1574.2C287.5,1571.2 292.4,1563.8 309.5,1564.3C326.7,1564.9 359.6,1576.5 379.5,1577.6C399.4,1578.7 412.5,1572.4 429.0,1571.0C445.5,1569.6 462.1,1569.1 478.6,1569.4C495.1,1569.6 510.8,1571.8 528.1,1572.7C545.4,1573.5 573.5,1574.0 582.6,1574.3M243.5,1592.4C249.0,1590.2 265.5,1581.4 276.5,1579.2C287.5,1577.0 292.4,1578.3 309.5,1579.2C326.7,1580.0 362.4,1582.8 379.5,1584.2C396.7,1585.6 396.0,1587.5 412.5,1587.5C429.0,1587.5 459.3,1585.0 478.6,1584.2C497.8,1583.4 510.8,1583.0 528.1,1582.6C545.4,1582.1 573.5,1581.9 582.6,1581.7M100.0,1589.9C107.4,1590.0 137.1,1590.6 144.5,1590.7M379.5,1592.5C385.0,1592.3 401.5,1591.6 412.5,1591.6C423.5,1591.6 440.0,1592.3 445.5,1592.5" stroke="#DC0008" stroke-width="3.0" fill="none" stroke-linecap="round"/>
<path d="M99.3,893.6H106.3M582.0,893.6H575.0M99.3,993.6H106.3M582.0,993.6H575.0M99.3,1093.7H106.3M582.0,1093.7H575.0M99.3,1193.8H106.3M582.0,1193.8H575.0M99.3,1293.8H106.3M582.0,1293.8H575.0M99.3,1393.9H106.3M582.0,1393.9H575.0M99.3,1493.9H106.3M582.0,1493.9H575.0" stroke="#444" stroke-width="2" fill="none"/>
<rect x="99.3" y="793.5" width="482.7" height="800.5" fill="none" stroke="#1c1c1c" stroke-width="2.4"/>
<path d="M101.3,795.0V1592.5M580.0,795.0V1592.5" stroke="#9a9ae0" stroke-width="1.3" fill="none"/>
<clipPath id="clip1"><rect x="642.3" y="795.3" width="493.5" height="799.2"/></clipPath>
<line x1="648.8" y1="1195.4" x2="1133.8" y2="1195.4" stroke="#2a9a2a" stroke-width="3.3" stroke-dasharray="3.2 4.5"/>
<path clip-path="url(#clip1)" d="M715.6,795.8C721.9,797.3 741.7,801.7 753.5,804.9C765.4,808.0 775.6,812.1 786.6,814.8C797.6,817.4 808.6,819.9 819.6,820.5C830.6,821.2 834.3,820.4 852.6,818.9C870.9,817.4 909.8,813.7 929.5,811.5C949.2,809.3 957.0,807.2 970.8,805.7C984.5,804.2 996.9,803.0 1012.1,802.4C1027.2,801.7 1047.8,802.3 1061.6,801.9C1075.3,801.5 1085.0,800.8 1094.6,799.9C1104.2,799.0 1115.2,796.9 1119.4,796.3M730.4,795.8C737.0,798.4 758.0,807.1 770.1,811.5C782.2,815.9 792.1,819.3 803.1,822.2C814.1,825.1 825.1,827.4 836.1,828.8C847.1,830.2 853.5,830.7 869.1,830.4C884.7,830.2 913.9,827.7 929.5,827.1C945.1,826.6 951.5,825.9 962.5,827.1C973.5,828.4 984.5,831.4 995.5,834.6C1006.6,837.7 1017.6,843.1 1028.6,846.1C1039.6,849.2 1050.6,850.0 1061.6,852.7C1072.6,855.5 1082.3,858.9 1094.6,862.6C1106.8,866.3 1128.3,872.9 1135.0,875.0M692.5,795.8C697.2,798.7 711.7,807.5 720.5,813.1C729.3,818.7 737.0,824.7 745.3,829.6C753.5,834.6 760.4,839.0 770.1,842.8C779.7,846.7 792.1,850.3 803.1,852.7C814.1,855.2 825.1,857.0 836.1,857.7C847.1,858.4 853.5,858.8 869.1,856.9C884.7,854.9 911.2,850.3 929.5,846.1C947.8,842.0 965.3,835.0 979.0,832.1C992.8,829.2 1001.1,829.2 1012.1,828.8C1023.1,828.4 1034.1,828.4 1045.1,829.6C1056.1,830.9 1067.1,834.3 1078.1,836.2C1089.1,838.1 1101.6,840.1 1111.1,841.2C1120.6,842.3 1131.0,842.5 1135.0,842.8M942.7,796.3C948.8,797.8 964.7,803.4 979.0,805.7C993.3,807.9 1012.1,808.3 1028.6,809.8C1045.1,811.3 1060.3,813.0 1078.1,814.8C1095.8,816.5 1125.5,819.6 1135.0,820.5M642.1,809.0C646.9,809.5 660.7,809.7 671.0,812.3C681.3,814.9 693.0,819.0 704.0,824.7C715.0,830.3 727.4,839.0 737.0,846.1C746.7,853.3 754.9,861.5 761.8,867.6C768.7,873.6 772.8,877.8 778.3,882.4C783.8,887.1 787.9,891.8 794.8,895.6C801.7,899.5 809.9,903.6 819.6,905.5C829.2,907.5 834.3,908.0 852.6,907.2C870.9,906.4 908.4,901.8 929.5,900.6C950.6,899.4 962.5,899.2 979.0,899.8C995.5,900.3 1014.8,903.2 1028.6,903.9C1042.3,904.6 1050.6,905.8 1061.6,903.9C1072.6,902.0 1082.3,896.6 1094.6,892.3C1106.8,888.1 1128.3,880.7 1135.0,878.3M642.1,823.8C646.9,824.5 660.7,825.1 671.0,828.0C681.3,830.9 693.0,835.9 704.0,841.2C715.0,846.4 726.0,853.3 737.0,859.3C748.0,865.4 759.1,872.8 770.1,877.5C781.1,882.2 792.1,885.1 803.1,887.4C814.1,889.7 825.1,890.6 836.1,891.5C847.1,892.5 853.5,896.3 869.1,893.2C884.7,890.0 911.2,878.2 929.5,872.5C947.8,866.9 963.9,863.7 979.0,859.3C994.2,854.9 1006.6,849.4 1020.3,846.1C1034.1,842.8 1049.2,841.2 1061.6,839.5C1074.0,837.9 1082.3,836.9 1094.6,836.2C1106.8,835.5 1128.3,835.5 1135.0,835.4M642.1,828.0C649.7,829.3 674.5,832.4 687.5,836.2C700.6,840.1 709.5,845.6 720.5,851.1C731.5,856.6 742.5,862.9 753.5,869.2C764.6,875.6 776.9,883.3 786.6,889.0C796.2,894.8 803.1,901.0 811.3,903.9C819.6,906.8 826.5,907.5 836.1,906.4C845.7,905.3 853.5,901.8 869.1,897.3C884.7,892.8 911.2,884.4 929.5,879.1C947.8,873.9 962.5,869.5 979.0,865.9C995.5,862.4 1012.1,859.1 1028.6,857.7C1045.1,856.3 1060.3,857.7 1078.1,857.7C1095.8,857.7 1125.5,857.7 1135.0,857.7M642.1,870.9C649.7,871.2 671.7,870.6 687.5,872.5C703.3,874.5 723.3,878.6 737.0,882.4C750.8,886.3 759.1,892.1 770.1,895.6C781.1,899.2 792.1,902.2 803.1,903.9C814.1,905.5 815.0,909.1 836.1,905.5C857.2,902.0 908.4,887.7 929.5,882.4C950.6,877.2 951.5,876.1 962.5,874.2C973.5,872.3 984.5,870.6 995.5,870.9C1006.6,871.2 1017.6,872.8 1028.6,875.8C1039.6,878.9 1050.6,884.1 1061.6,889.0C1072.6,894.0 1082.3,898.9 1094.6,905.5C1106.8,912.2 1128.3,924.8 1135.0,928.7M642.1,903.9C649.7,904.2 671.7,904.7 687.5,905.5C703.3,906.4 723.3,907.2 737.0,908.9C750.8,910.5 759.1,912.2 770.1,915.5C781.1,918.8 792.1,925.4 803.1,928.7C814.1,932.0 825.1,933.1 836.1,935.3C847.1,937.5 853.5,938.6 869.1,941.9C884.7,945.2 911.2,951.5 929.5,955.1C947.8,958.6 962.5,962.2 979.0,963.3C995.5,964.4 1012.1,963.0 1028.6,961.7C1045.1,960.3 1064.3,958.1 1078.1,955.1C1091.8,952.0 1101.6,947.1 1111.1,943.5C1120.6,939.9 1131.0,935.3 1135.0,933.6M642.1,925.4C649.7,924.8 671.7,923.4 687.5,922.1C703.3,920.7 720.5,918.3 737.0,917.1C753.5,915.9 772.8,913.8 786.6,914.6C800.3,915.5 809.9,919.9 819.6,922.1C829.2,924.3 836.1,927.6 844.3,927.8C852.6,928.1 854.9,926.6 869.1,923.7C883.3,920.8 911.2,913.1 929.5,910.5C947.8,907.9 962.5,908.3 979.0,908.0C995.5,907.8 1014.8,908.4 1028.6,908.9C1042.3,909.3 1050.6,910.0 1061.6,910.5C1072.6,911.1 1082.3,911.9 1094.6,912.2C1106.8,912.4 1128.3,912.2 1135.0,912.2M642.1,932.0C649.7,932.4 671.7,933.6 687.5,934.4C703.3,935.3 720.5,936.9 737.0,936.9C753.5,936.9 772.8,935.0 786.6,934.4C800.3,933.9 808.6,933.5 819.6,933.6C830.6,933.7 834.3,936.1 852.6,935.3C870.9,934.4 908.4,930.9 929.5,928.7C950.6,926.5 962.5,924.5 979.0,922.1C995.5,919.6 1014.8,914.9 1028.6,913.8C1042.3,912.7 1050.6,914.1 1061.6,915.5C1072.6,916.8 1082.3,920.1 1094.6,922.1C1106.8,924.0 1128.3,926.2 1135.0,927.0M642.1,963.3C649.7,962.9 671.7,961.5 687.5,960.8C703.3,960.2 720.5,959.3 737.0,959.2C753.5,959.1 770.1,960.0 786.6,960.0C803.1,960.0 822.3,957.3 836.1,959.2C849.8,961.1 853.5,967.9 869.1,971.6C884.7,975.3 911.2,979.4 929.5,981.5C947.8,983.5 962.5,984.2 979.0,984.0C995.5,983.7 1012.1,982.4 1028.6,979.8C1045.1,977.2 1064.3,971.3 1078.1,968.3C1091.8,965.3 1101.6,962.9 1111.1,961.7C1120.6,960.4 1131.0,961.0 1135.0,960.8M642.1,984.8C649.7,983.7 671.7,980.9 687.5,978.2C703.3,975.4 720.5,971.3 737.0,968.3C753.5,965.3 772.8,962.8 786.6,960.0C800.3,957.3 808.6,954.5 819.6,951.8C830.6,949.0 834.3,943.5 852.6,943.5C870.9,943.5 908.4,949.7 929.5,951.8C950.6,953.8 962.5,955.1 979.0,955.9C995.5,956.7 1012.1,956.6 1028.6,956.7C1045.1,956.9 1064.3,956.2 1078.1,956.7C1091.8,957.3 1101.6,959.3 1111.1,960.0C1120.6,960.7 1131.0,960.7 1135.0,960.8M642.1,996.3C649.7,995.2 671.7,993.0 687.5,989.7C703.3,986.4 720.5,981.2 737.0,976.5C753.5,971.9 772.8,964.7 786.6,961.7C800.3,958.6 808.6,957.3 819.6,958.4C830.6,959.5 834.3,961.7 852.6,968.3C870.9,974.9 908.4,991.9 929.5,998.0C950.6,1004.0 962.5,1004.0 979.0,1004.6C995.5,1005.1 1012.1,1004.0 1028.6,1001.3C1045.1,998.5 1064.3,992.2 1078.1,988.1C1091.8,984.0 1101.6,979.3 1111.1,976.5C1120.6,973.8 1131.0,972.4 1135.0,971.6M642.1,1004.6C649.7,1003.8 671.7,1002.7 687.5,999.6C703.3,996.6 720.5,990.6 737.0,986.4C753.5,982.3 772.8,977.1 786.6,974.9C800.3,972.7 808.6,972.4 819.6,973.2C830.6,974.1 834.3,975.2 852.6,979.8C870.9,984.5 908.4,997.2 929.5,1001.3C950.6,1005.4 962.5,1004.9 979.0,1004.6C995.5,1004.3 1012.1,1002.1 1028.6,999.6C1045.1,997.2 1064.3,992.3 1078.1,989.7C1091.8,987.1 1101.6,985.1 1111.1,984.0C1120.6,982.9 1131.0,983.3 1135.0,983.1M642.0,1364.6C646.6,1365.0 661.2,1365.2 669.8,1367.0C678.4,1368.9 685.7,1372.3 693.6,1375.8C701.6,1379.2 709.5,1383.3 717.5,1387.7C725.4,1392.1 733.4,1397.5 741.3,1402.0C749.3,1406.5 757.2,1411.3 765.1,1414.7C773.1,1418.1 778.4,1420.7 789.0,1422.6C799.6,1424.6 805.6,1424.8 828.7,1426.6C851.8,1428.5 903.2,1431.5 927.7,1433.8C952.1,1436.0 959.5,1438.5 975.4,1440.1C991.3,1441.7 1009.8,1443.0 1023.0,1443.3C1036.3,1443.6 1044.2,1443.0 1054.8,1441.7C1065.4,1440.4 1073.1,1437.2 1086.6,1435.4C1100.1,1433.5 1127.7,1431.4 1135.9,1430.6M642.0,1372.6C651.9,1372.7 683.7,1372.2 701.6,1373.4C719.5,1374.6 733.4,1376.8 749.3,1379.7C765.1,1382.6 781.0,1386.4 796.9,1390.9C812.8,1395.4 831.4,1402.5 844.6,1406.8C857.9,1411.0 857.3,1413.6 876.4,1416.3C895.5,1418.9 935.0,1422.0 959.5,1422.6C983.9,1423.3 1001.8,1420.9 1023.0,1420.3C1044.2,1419.6 1067.8,1419.0 1086.6,1418.7C1105.4,1418.3 1127.7,1418.3 1135.9,1418.2M642.0,1402.0C649.3,1402.5 670.4,1403.0 685.7,1405.2C700.9,1407.3 717.5,1411.5 733.4,1414.7C749.3,1417.9 765.1,1421.3 781.0,1424.2C796.9,1427.1 815.5,1429.8 828.7,1432.2C842.0,1434.6 844.0,1433.0 860.5,1438.5C877.0,1444.1 911.2,1459.5 927.7,1465.6C944.2,1471.6 950.2,1473.5 959.5,1475.1C968.7,1476.7 972.7,1477.5 983.3,1475.1C993.9,1472.7 1008.5,1464.8 1023.0,1460.8C1037.6,1456.8 1051.9,1453.2 1070.7,1451.3C1089.5,1449.3 1125.0,1449.3 1135.9,1448.9M642.0,1408.3C651.9,1408.5 681.0,1409.0 701.6,1409.1C722.1,1409.3 744.0,1409.1 765.1,1409.1C786.3,1409.1 799.0,1409.4 828.7,1409.1C858.5,1408.9 913.8,1408.1 943.6,1407.5C973.3,1407.0 986.0,1406.3 1007.1,1406.0C1028.3,1405.6 1049.3,1405.6 1070.7,1405.5C1092.2,1405.4 1125.0,1405.5 1135.9,1405.5M642.0,1422.6C651.9,1422.6 681.0,1422.1 701.6,1422.6C722.1,1423.2 744.0,1424.9 765.1,1425.8C786.3,1426.8 799.0,1427.8 828.7,1428.2C858.5,1428.6 913.8,1428.5 943.6,1428.2C973.3,1427.9 986.0,1427.0 1007.1,1426.6C1028.3,1426.2 1049.3,1426.0 1070.7,1425.8C1092.2,1425.7 1125.0,1425.8 1135.9,1425.8M642.0,1431.4C651.9,1431.4 681.0,1431.0 701.6,1431.4C722.1,1431.8 744.0,1432.3 765.1,1433.8C786.3,1435.2 803.0,1436.9 828.7,1440.1C854.5,1443.3 897.9,1448.3 919.7,1452.8C941.5,1457.3 948.9,1464.2 959.5,1467.1C970.1,1470.1 972.7,1473.0 983.3,1470.3C993.9,1467.7 1011.1,1455.8 1023.0,1451.3C1035.0,1446.7 1044.2,1445.6 1054.8,1443.3C1065.4,1441.1 1073.1,1438.8 1086.6,1437.7C1100.1,1436.7 1127.7,1437.1 1135.9,1436.9M642.0,1440.1C651.9,1440.3 683.7,1440.4 701.6,1440.9C719.5,1441.5 733.4,1441.6 749.3,1443.3C765.1,1445.0 781.0,1447.5 796.9,1451.3C812.8,1455.0 822.8,1460.5 844.6,1465.6C866.4,1470.6 908.5,1477.6 927.7,1481.4C946.8,1485.3 946.2,1487.0 959.5,1488.6C972.7,1490.2 993.9,1490.9 1007.1,1491.0C1020.4,1491.1 1025.7,1491.3 1038.9,1489.4C1052.2,1487.5 1070.5,1482.2 1086.6,1479.9C1102.8,1477.5 1127.7,1475.9 1135.9,1475.1M642.0,1443.3C651.9,1443.3 683.7,1442.5 701.6,1443.3C719.5,1444.1 736.0,1445.7 749.3,1448.1C762.5,1450.5 770.4,1453.1 781.0,1457.6C791.6,1462.1 802.2,1468.2 812.8,1475.1C823.4,1482.0 835.3,1492.0 844.6,1498.9C853.9,1505.8 854.6,1513.8 868.5,1516.4C882.3,1519.1 909.9,1519.3 927.7,1514.8C945.5,1510.3 959.5,1493.1 975.4,1489.4C991.3,1485.7 1007.1,1491.0 1023.0,1492.6C1038.9,1494.2 1051.9,1496.7 1070.7,1498.9C1089.5,1501.2 1125.0,1504.9 1135.9,1506.1M642.0,1462.4C649.3,1461.7 670.4,1459.1 685.7,1458.4C700.9,1457.7 718.8,1457.2 733.4,1458.4C747.9,1459.6 761.2,1462.2 773.1,1465.6C785.0,1468.9 794.3,1473.0 804.9,1478.3C815.5,1483.6 827.4,1491.5 836.7,1497.3C845.9,1503.2 853.9,1509.8 860.5,1513.2C867.1,1516.7 867.9,1519.1 876.4,1518.0C884.9,1516.9 900.6,1511.9 911.8,1506.9C923.0,1501.8 933.0,1493.6 943.6,1487.8C954.2,1482.0 962.1,1478.3 975.4,1471.9C988.6,1465.6 1007.1,1455.8 1023.0,1449.7C1038.9,1443.6 1051.9,1438.5 1070.7,1435.4C1089.5,1432.2 1125.0,1431.4 1135.9,1430.6M642.0,1479.1C651.9,1479.2 681.0,1478.9 701.6,1479.9C722.1,1480.8 746.6,1482.8 765.1,1484.6C783.7,1486.5 799.6,1488.9 812.8,1491.0C826.1,1493.1 825.5,1493.9 844.6,1497.3C863.8,1500.8 908.5,1508.5 927.7,1511.6C946.8,1514.8 946.2,1517.7 959.5,1516.4C972.7,1515.1 996.6,1505.8 1007.1,1503.7C1017.7,1501.6 1015.1,1501.8 1023.0,1503.7C1031.0,1505.6 1044.2,1511.1 1054.8,1514.8C1065.4,1518.5 1073.1,1523.3 1086.6,1526.0C1100.1,1528.6 1127.7,1529.9 1135.9,1530.7M642.0,1494.2C649.3,1495.2 670.4,1497.6 685.7,1500.5C700.9,1503.4 717.5,1508.2 733.4,1511.6C749.3,1515.1 765.1,1518.3 781.0,1521.2C796.9,1524.1 804.3,1521.7 828.7,1529.1C853.2,1536.5 907.2,1554.8 927.7,1565.7C948.1,1576.5 947.5,1589.5 951.5,1594.3M642.0,1519.6C649.3,1519.7 673.1,1519.1 685.7,1520.4C698.3,1521.7 706.9,1524.2 717.5,1527.5C728.1,1530.9 740.0,1535.8 749.3,1540.3C758.5,1544.8 765.1,1550.6 773.1,1554.6C781.0,1558.5 790.3,1562.8 796.9,1564.1C803.6,1565.4 804.9,1565.9 812.8,1562.5C820.8,1559.1 828.1,1550.6 844.6,1543.4C861.1,1536.3 895.3,1527.0 911.8,1519.6C928.3,1512.2 933.0,1504.5 943.6,1498.9C954.2,1493.4 962.1,1490.5 975.4,1486.2C988.6,1482.0 1007.1,1477.7 1023.0,1473.5C1038.9,1469.3 1051.9,1463.6 1070.7,1460.8C1089.5,1458.0 1125.0,1457.5 1135.9,1456.8M642.0,1558.5C649.3,1558.4 670.4,1559.5 685.7,1557.7C700.9,1556.0 720.1,1551.6 733.4,1548.2C746.6,1544.8 754.6,1540.0 765.1,1537.1C775.7,1534.2 783.7,1532.3 796.9,1530.7C810.2,1529.1 825.5,1524.9 844.6,1527.5C863.8,1530.2 895.3,1539.5 911.8,1546.6C928.3,1553.8 934.3,1562.5 943.6,1570.5C952.8,1578.4 963.4,1590.3 967.4,1594.3M642.0,1573.6C651.9,1573.2 681.0,1571.2 701.6,1571.2C722.1,1571.2 749.3,1573.2 765.1,1573.6C781.0,1574.0 786.3,1575.0 796.9,1573.6C807.5,1572.3 818.1,1569.7 828.7,1565.7C839.3,1561.7 846.7,1554.0 860.5,1549.8C874.3,1545.6 897.9,1540.0 911.8,1540.3C925.6,1540.5 933.0,1547.9 943.6,1551.4C954.2,1554.8 962.1,1557.2 975.4,1560.9C988.6,1564.6 1007.1,1570.7 1023.0,1573.6C1038.9,1576.5 1051.9,1577.9 1070.7,1578.4C1089.5,1578.9 1125.0,1577.1 1135.9,1576.8M757.2,1594.3C763.8,1591.1 785.0,1580.5 796.9,1575.2C808.9,1569.9 818.1,1567.5 828.7,1562.5C839.3,1557.5 844.0,1551.1 860.5,1545.0C877.0,1538.9 911.2,1529.4 927.7,1526.0C944.2,1522.5 948.9,1523.6 959.5,1524.4C970.1,1525.2 980.7,1528.7 991.3,1530.7C1001.8,1532.7 1009.8,1537.1 1023.0,1536.3C1036.3,1535.5 1051.9,1528.9 1070.7,1526.0C1089.5,1523.0 1125.0,1520.0 1135.9,1518.8M781.0,1594.3C786.3,1591.9 802.2,1584.2 812.8,1580.0C823.4,1575.7 834.0,1572.8 844.6,1568.9C855.2,1564.9 865.2,1560.7 876.4,1556.1C887.6,1551.6 899.3,1542.1 911.8,1541.8C924.3,1541.6 938.3,1554.3 951.5,1554.6C964.8,1554.8 979.3,1546.1 991.3,1543.4C1003.2,1540.8 1012.4,1538.1 1023.0,1538.7C1033.6,1539.2 1044.2,1544.0 1054.8,1546.6C1065.4,1549.3 1073.1,1551.9 1086.6,1554.6C1100.1,1557.2 1127.7,1561.2 1135.9,1562.5M804.9,1594.3C811.5,1593.0 826.8,1589.5 844.6,1586.3C862.4,1583.2 895.3,1576.3 911.8,1575.2C928.3,1574.2 930.3,1577.9 943.6,1580.0C956.8,1582.1 975.4,1586.1 991.3,1587.9C1007.1,1589.8 1023.0,1591.1 1038.9,1591.1C1054.8,1591.1 1070.5,1589.3 1086.6,1587.9C1102.8,1586.6 1127.7,1584.0 1135.9,1583.2M812.8,1587.9C820.8,1587.9 841.4,1588.1 860.5,1587.9C879.6,1587.8 911.2,1586.1 927.7,1587.1C944.2,1588.2 954.2,1593.1 959.5,1594.3" stroke="#DC0008" stroke-width="3.0" fill="none" stroke-linecap="round"/>
<path d="M642.3,895.2H649.3M1135.8,895.2H1128.8M642.3,995.1H649.3M1135.8,995.1H1128.8M642.3,1095.0H649.3M1135.8,1095.0H1128.8M642.3,1194.9H649.3M1135.8,1194.9H1128.8M642.3,1294.8H649.3M1135.8,1294.8H1128.8M642.3,1394.7H649.3M1135.8,1394.7H1128.8M642.3,1494.6H649.3M1135.8,1494.6H1128.8" stroke="#444" stroke-width="2" fill="none"/>
<rect x="642.3" y="795.3" width="493.5" height="799.2" fill="none" stroke="#1c1c1c" stroke-width="2.4"/>
<path d="M644.3,796.8V1593.0M1133.8,796.8V1593.0" stroke="#9a9ae0" stroke-width="1.3" fill="none"/>
<clipPath id="clip2"><rect x="1197.0" y="795.3" width="485.0" height="799.2"/></clipPath>
<line x1="1203.5" y1="1195.4" x2="1680.0" y2="1195.4" stroke="#2a9a2a" stroke-width="3.3" stroke-dasharray="3.2 4.5"/>
<path clip-path="url(#clip2)" d="M1277.8,795.8C1285.5,797.3 1310.9,802.7 1324.1,804.9C1337.3,807.1 1346.1,808.0 1357.1,809.0C1368.1,809.9 1379.1,810.5 1390.1,810.6C1401.1,810.8 1407.5,810.6 1423.1,809.8C1438.7,809.0 1466.6,806.1 1483.5,805.7C1500.5,805.3 1511.0,807.9 1524.8,807.3C1538.5,806.8 1553.7,803.1 1566.1,802.4C1578.4,801.7 1588.1,802.0 1599.1,803.2C1610.1,804.4 1618.3,808.0 1632.1,809.8C1645.8,811.6 1673.4,813.2 1681.6,813.9M1287.7,795.8C1296.5,798.9 1326.3,809.7 1340.6,814.8C1354.9,819.9 1362.6,823.4 1373.6,826.3C1384.6,829.2 1391.0,832.1 1406.6,832.1C1422.2,832.1 1450.1,828.2 1467.0,826.3C1484.0,824.4 1494.5,821.5 1508.3,820.5C1522.0,819.6 1534.4,820.1 1549.5,820.5C1564.7,821.0 1582.6,821.6 1599.1,823.0C1615.6,824.4 1634.8,827.6 1648.6,828.8C1662.3,830.0 1676.1,830.2 1681.6,830.4M1248.1,795.8C1252.5,798.4 1264.6,805.5 1274.5,811.5C1284.4,817.4 1296.5,824.9 1307.5,831.3C1318.6,837.6 1329.6,844.7 1340.6,849.4C1351.6,854.1 1362.6,857.7 1373.6,859.3C1384.6,861.0 1391.0,861.8 1406.6,859.3C1422.2,856.9 1450.1,849.3 1467.0,844.5C1484.0,839.7 1497.3,832.6 1508.3,830.4C1519.3,828.2 1523.4,829.2 1533.0,831.3C1542.7,833.3 1555.1,839.2 1566.1,842.8C1577.1,846.4 1585.3,850.8 1599.1,852.7C1612.8,854.7 1634.8,854.2 1648.6,854.4C1662.3,854.5 1676.1,853.7 1681.6,853.6M1491.8,796.3C1494.5,796.9 1495.9,799.3 1508.3,799.9C1520.7,800.5 1545.4,800.2 1566.1,799.9C1586.7,799.6 1612.8,798.7 1632.1,798.3C1651.3,797.8 1673.4,797.6 1681.6,797.4M1198.0,799.0C1200.8,798.7 1208.0,797.5 1215.0,797.0C1222.0,796.5 1235.8,796.2 1240.0,796.0M1196.1,799.1C1200.9,800.0 1214.7,801.4 1225.0,804.9C1235.3,808.3 1247.0,812.8 1258.0,819.7C1269.0,826.6 1280.0,837.3 1291.0,846.1C1302.0,854.9 1313.1,864.8 1324.1,872.5C1335.1,880.2 1346.1,887.1 1357.1,892.3C1368.1,897.6 1379.1,902.0 1390.1,903.9C1401.1,905.8 1410.3,905.5 1423.1,903.9C1435.9,902.2 1452.8,896.5 1467.0,894.0C1481.2,891.5 1491.8,889.3 1508.3,889.0C1524.8,888.8 1548.2,890.7 1566.1,892.3C1583.9,894.0 1601.8,896.2 1615.6,898.9C1629.3,901.7 1637.6,906.7 1648.6,908.9C1659.6,911.1 1676.1,911.6 1681.6,912.2M1196.1,820.5C1200.9,821.0 1214.7,820.1 1225.0,823.0C1235.3,825.9 1247.0,832.4 1258.0,837.9C1269.0,843.4 1280.0,849.4 1291.0,856.0C1302.0,862.6 1313.1,870.9 1324.1,877.5C1335.1,884.1 1346.1,891.1 1357.1,895.6C1368.1,900.2 1379.1,903.1 1390.1,904.7C1401.1,906.4 1410.3,907.1 1423.1,905.5C1435.9,904.0 1452.8,898.0 1467.0,895.6C1481.2,893.3 1491.8,891.5 1508.3,891.5C1524.8,891.5 1548.2,893.6 1566.1,895.6C1583.9,897.7 1601.8,901.3 1615.6,903.9C1629.3,906.5 1637.6,909.7 1648.6,911.3C1659.6,913.0 1676.1,913.4 1681.6,913.8M1196.1,829.6C1200.9,830.2 1214.7,830.4 1225.0,832.9C1235.3,835.4 1247.0,839.0 1258.0,844.5C1269.0,850.0 1280.0,858.5 1291.0,865.9C1302.0,873.4 1313.1,881.9 1324.1,889.0C1335.1,896.2 1346.1,904.4 1357.1,908.9C1368.1,913.3 1379.1,914.9 1390.1,915.5C1401.1,916.0 1407.5,913.5 1423.1,912.2C1438.7,910.8 1465.2,908.0 1483.5,907.2C1501.8,906.4 1516.5,906.9 1533.0,907.2C1549.5,907.5 1566.1,908.0 1582.6,908.9C1599.1,909.7 1618.3,910.5 1632.1,912.2C1645.8,913.8 1656.8,917.4 1665.1,918.8C1673.4,920.1 1678.9,920.1 1681.6,920.4M1196.1,864.3C1203.7,864.4 1225.7,863.5 1241.5,865.1C1257.3,866.8 1277.3,872.9 1291.0,874.2C1304.8,875.4 1313.1,871.2 1324.1,872.5C1335.1,873.9 1346.1,880.8 1357.1,882.4C1368.1,884.1 1369.0,885.2 1390.1,882.4C1411.2,879.7 1461.1,870.6 1483.5,865.9C1506.0,861.3 1511.0,858.0 1524.8,854.4C1538.5,850.8 1553.7,846.8 1566.1,844.5C1578.4,842.1 1585.3,840.6 1599.1,840.3C1612.8,840.1 1634.8,842.3 1648.6,842.8C1662.3,843.4 1676.1,843.5 1681.6,843.6M1304.2,865.9C1307.5,866.8 1315.3,868.5 1324.1,870.9C1332.9,873.2 1346.1,876.1 1357.1,880.0C1368.1,883.8 1379.1,891.9 1390.1,894.0C1401.1,896.1 1407.5,895.4 1423.1,892.3C1438.7,889.3 1465.2,880.5 1483.5,875.8C1501.8,871.2 1519.3,867.0 1533.0,864.3C1546.8,861.5 1552.3,859.9 1566.1,859.3C1579.8,858.8 1601.8,859.9 1615.6,861.0C1629.3,862.1 1637.6,864.7 1648.6,865.9C1659.6,867.2 1676.1,868.0 1681.6,868.4M1196.1,897.3C1203.7,897.4 1225.7,897.6 1241.5,898.1C1257.3,898.7 1277.3,899.6 1291.0,900.6C1304.8,901.6 1313.1,901.4 1324.1,903.9C1335.1,906.4 1346.1,910.2 1357.1,915.5C1368.1,920.7 1379.1,932.2 1390.1,935.3C1401.1,938.3 1407.5,932.5 1423.1,933.6C1438.7,934.7 1465.2,939.0 1483.5,941.9C1501.8,944.8 1516.5,949.0 1533.0,950.9C1549.5,952.9 1566.1,953.0 1582.6,953.4C1599.1,953.8 1619.7,954.5 1632.1,953.4C1644.5,952.3 1648.6,949.3 1656.8,946.8C1665.1,944.3 1677.5,939.9 1681.6,938.6M1196.1,913.0C1203.7,912.6 1225.7,911.6 1241.5,910.5C1257.3,909.4 1275.9,907.2 1291.0,906.4C1306.2,905.5 1321.3,906.0 1332.3,905.5C1343.3,905.1 1347.4,905.0 1357.1,903.9C1366.7,902.8 1369.0,902.5 1390.1,898.9C1411.2,895.4 1459.7,887.0 1483.5,882.4C1507.3,877.9 1519.3,873.4 1533.0,871.7C1546.8,870.1 1555.1,870.7 1566.1,872.5C1577.1,874.3 1589.4,879.4 1599.1,882.4C1608.7,885.5 1615.6,889.5 1623.8,890.7C1632.1,891.9 1639.0,890.4 1648.6,889.9C1658.2,889.3 1676.1,887.8 1681.6,887.4M1196.1,932.8C1203.7,933.1 1225.7,934.0 1241.5,934.4C1257.3,934.8 1274.5,936.5 1291.0,935.3C1307.5,934.0 1326.8,928.7 1340.6,927.0C1354.3,925.4 1362.6,925.9 1373.6,925.4C1384.6,924.8 1388.3,924.4 1406.6,923.7C1424.9,923.0 1462.4,921.9 1483.5,921.2C1504.6,920.5 1516.5,920.5 1533.0,919.6C1549.5,918.6 1566.1,915.9 1582.6,915.5C1599.1,915.0 1618.3,915.5 1632.1,917.1C1645.8,918.8 1656.8,923.0 1665.1,925.4C1673.4,927.7 1678.9,930.2 1681.6,931.1M1196.1,952.6C1203.7,952.3 1225.7,951.6 1241.5,950.9C1257.3,950.3 1274.5,949.6 1291.0,948.5C1307.5,947.4 1326.8,944.3 1340.6,944.3C1354.3,944.3 1362.6,945.6 1373.6,948.5C1384.6,951.4 1391.0,956.4 1406.6,961.7C1422.2,966.9 1445.9,976.3 1467.0,979.8C1488.1,983.4 1513.8,984.0 1533.0,983.1C1552.3,982.3 1566.1,978.5 1582.6,974.9C1599.1,971.3 1615.6,964.3 1632.1,961.7C1648.6,959.1 1673.4,959.6 1681.6,959.2M1196.1,968.3C1203.7,967.5 1225.7,965.5 1241.5,963.3C1257.3,961.1 1274.5,956.9 1291.0,955.1C1307.5,953.3 1326.8,954.4 1340.6,952.6C1354.3,950.8 1362.6,946.1 1373.6,944.3C1384.6,942.6 1388.3,940.6 1406.6,941.9C1424.9,943.1 1462.4,949.0 1483.5,951.8C1504.6,954.5 1516.5,957.1 1533.0,958.4C1549.5,959.6 1566.1,959.5 1582.6,959.2C1599.1,958.9 1615.6,956.7 1632.1,956.7C1648.6,956.7 1673.4,958.8 1681.6,959.2M1196.1,993.0C1203.7,992.2 1225.7,990.8 1241.5,988.1C1257.3,985.3 1274.5,980.4 1291.0,976.5C1307.5,972.7 1326.8,968.0 1340.6,965.0C1354.3,961.9 1362.6,957.8 1373.6,958.4C1384.6,958.9 1391.0,963.3 1406.6,968.3C1422.2,973.2 1451.4,982.9 1467.0,988.1C1482.6,993.3 1489.0,997.2 1500.0,999.6C1511.0,1002.1 1519.3,1002.9 1533.0,1002.9C1546.8,1002.9 1566.1,1002.9 1582.6,999.6C1599.1,996.3 1615.6,987.7 1632.1,983.1C1648.6,978.6 1673.4,974.2 1681.6,972.4M1196.1,1001.3C1203.7,1000.7 1225.7,1000.5 1241.5,998.0C1257.3,995.5 1274.5,990.8 1291.0,986.4C1307.5,982.0 1329.6,974.3 1340.6,971.6C1351.6,968.8 1348.8,969.4 1357.1,969.9C1365.3,970.5 1371.8,970.5 1390.1,974.9C1408.4,979.3 1447.3,991.4 1467.0,996.3C1486.7,1001.3 1494.5,1003.2 1508.3,1004.6C1522.0,1006.0 1534.4,1006.2 1549.5,1004.6C1564.7,1002.9 1582.6,998.0 1599.1,994.7C1615.6,991.4 1634.8,987.0 1648.6,984.8C1662.3,982.6 1676.1,982.0 1681.6,981.5M1196.0,1367.0C1203.3,1368.2 1224.4,1371.7 1239.7,1374.2C1254.9,1376.7 1271.5,1379.1 1287.4,1382.1C1303.3,1385.2 1319.1,1388.3 1335.0,1392.4C1350.9,1396.6 1368.1,1402.2 1382.7,1406.8C1397.3,1411.3 1406.0,1411.5 1422.5,1419.5C1438.9,1427.4 1465.2,1446.2 1481.7,1454.4C1498.2,1462.6 1508.2,1468.7 1521.4,1468.7C1534.7,1468.7 1549.2,1458.1 1561.1,1454.4C1573.1,1450.7 1579.7,1448.7 1592.9,1446.5C1606.2,1444.2 1625.5,1442.2 1640.6,1440.9C1655.7,1439.6 1676.4,1438.9 1683.5,1438.5M1196.0,1382.1C1203.3,1382.4 1227.1,1382.0 1239.7,1383.7C1252.3,1385.4 1262.2,1388.6 1271.5,1392.4C1280.7,1396.3 1287.4,1402.2 1295.3,1406.8C1303.3,1411.3 1311.2,1415.8 1319.1,1419.5C1327.1,1423.2 1332.4,1426.4 1343.0,1429.0C1353.6,1431.7 1359.6,1429.3 1382.7,1435.4C1405.8,1441.5 1458.6,1458.9 1481.7,1465.6C1504.8,1472.2 1508.2,1475.4 1521.4,1475.1C1534.7,1474.8 1546.6,1467.1 1561.1,1464.0C1575.7,1460.8 1595.6,1458.1 1608.8,1456.0C1622.1,1453.9 1628.2,1452.2 1640.6,1451.3C1653.1,1450.3 1676.4,1450.6 1683.5,1450.5M1196.0,1406.8C1205.9,1406.9 1235.0,1407.3 1255.6,1407.5C1276.1,1407.8 1298.0,1408.0 1319.1,1408.0C1340.3,1408.0 1353.0,1407.8 1382.7,1407.5C1412.5,1407.3 1467.8,1406.8 1497.6,1406.4C1527.3,1406.0 1540.0,1405.4 1561.1,1405.2C1582.3,1405.0 1604.3,1405.2 1624.7,1405.2C1645.1,1405.2 1673.7,1405.2 1683.5,1405.2M1196.0,1408.3C1203.3,1408.9 1224.4,1409.4 1239.7,1411.5C1254.9,1413.6 1271.5,1418.1 1287.4,1421.1C1303.3,1424.0 1319.1,1427.1 1335.0,1429.0C1350.9,1430.9 1358.3,1431.7 1382.7,1432.2C1407.2,1432.7 1457.2,1431.5 1481.7,1432.2C1506.1,1432.8 1513.5,1435.5 1529.4,1436.2C1545.3,1436.8 1561.1,1437.3 1577.0,1436.2C1592.9,1435.0 1607.0,1431.3 1624.7,1429.0C1642.5,1426.8 1673.7,1423.7 1683.5,1422.6M1196.0,1417.1C1205.9,1417.2 1235.0,1417.5 1255.6,1417.9C1276.1,1418.3 1298.0,1419.1 1319.1,1419.5C1340.3,1419.9 1353.0,1420.4 1382.7,1420.3C1412.5,1420.1 1467.8,1419.3 1497.6,1418.7C1527.3,1418.0 1540.0,1417.0 1561.1,1416.3C1582.3,1415.6 1604.3,1414.8 1624.7,1414.4C1645.1,1414.0 1673.7,1414.0 1683.5,1413.9M1196.0,1429.8C1205.9,1429.8 1235.0,1429.9 1255.6,1429.8C1276.1,1429.7 1298.0,1429.4 1319.1,1429.0C1340.3,1428.6 1353.0,1427.7 1382.7,1427.4C1412.5,1427.1 1467.8,1427.7 1497.6,1427.4C1527.3,1427.1 1540.0,1426.5 1561.1,1425.8C1582.3,1425.2 1604.3,1424.0 1624.7,1423.4C1645.1,1422.9 1673.7,1422.8 1683.5,1422.6M1196.0,1431.4C1205.9,1431.5 1237.7,1431.0 1255.6,1432.2C1273.5,1433.4 1287.4,1435.6 1303.3,1438.5C1319.1,1441.5 1335.0,1445.2 1350.9,1449.7C1366.8,1454.2 1378.1,1458.9 1398.6,1465.6C1419.1,1472.2 1455.9,1487.3 1473.7,1489.4C1491.6,1491.5 1493.6,1483.0 1505.5,1478.3C1517.4,1473.5 1530.7,1464.8 1545.3,1460.8C1559.8,1456.8 1577.0,1455.9 1592.9,1454.4C1608.8,1453.0 1625.5,1452.6 1640.6,1452.0C1655.7,1451.5 1676.4,1451.4 1683.5,1451.3M1196.0,1440.1C1205.9,1440.3 1237.7,1440.1 1255.6,1440.9C1273.5,1441.7 1290.0,1442.6 1303.3,1444.9C1316.5,1447.1 1324.4,1450.2 1335.0,1454.4C1345.6,1458.7 1356.2,1464.2 1366.8,1470.3C1377.4,1476.4 1389.3,1484.6 1398.6,1491.0C1407.9,1497.3 1415.8,1504.8 1422.5,1508.5C1429.1,1512.2 1429.8,1515.4 1438.3,1513.2C1446.9,1511.1 1458.6,1498.9 1473.7,1495.8C1488.9,1492.6 1512.1,1494.2 1529.4,1494.2C1546.6,1494.2 1561.1,1495.2 1577.0,1495.8C1592.9,1496.3 1607.0,1496.3 1624.7,1497.3C1642.5,1498.4 1673.7,1501.3 1683.5,1502.1M1196.0,1470.3C1203.3,1469.7 1224.4,1467.5 1239.7,1466.4C1254.9,1465.2 1274.1,1463.0 1287.4,1463.2C1300.6,1463.3 1308.6,1464.6 1319.1,1467.1C1329.7,1469.7 1340.3,1474.3 1350.9,1478.3C1361.5,1482.2 1372.1,1487.3 1382.7,1491.0C1393.3,1494.7 1398.0,1497.6 1414.5,1500.5C1431.0,1503.4 1465.2,1504.8 1481.7,1508.5C1498.2,1512.2 1501.5,1518.3 1513.5,1522.8C1525.4,1527.3 1540.0,1534.2 1553.2,1535.5C1566.4,1536.8 1578.4,1533.1 1592.9,1530.7C1607.5,1528.3 1625.5,1523.8 1640.6,1521.2C1655.7,1518.5 1676.4,1515.9 1683.5,1514.8M1196.0,1471.9C1203.3,1471.8 1224.4,1470.7 1239.7,1471.1C1254.9,1471.5 1271.5,1472.3 1287.4,1474.3C1303.3,1476.3 1321.8,1479.2 1335.0,1483.0C1348.3,1486.9 1356.2,1492.6 1366.8,1497.3C1377.4,1502.1 1389.3,1507.4 1398.6,1511.6C1407.9,1515.9 1415.8,1520.7 1422.5,1522.8C1429.1,1524.9 1429.8,1528.6 1438.3,1524.4C1446.9,1520.1 1459.9,1503.7 1473.7,1497.3C1487.6,1491.0 1506.8,1487.3 1521.4,1486.2C1536.0,1485.2 1546.6,1491.0 1561.1,1491.0C1575.7,1491.0 1595.6,1488.1 1608.8,1486.2C1622.1,1484.4 1628.2,1481.4 1640.6,1479.9C1653.1,1478.3 1676.4,1477.2 1683.5,1476.7M1196.0,1495.0C1203.3,1495.9 1224.4,1498.3 1239.7,1500.5C1254.9,1502.8 1271.5,1505.8 1287.4,1508.5C1303.3,1511.1 1319.1,1513.5 1335.0,1516.4C1350.9,1519.3 1369.5,1523.0 1382.7,1526.0C1396.0,1528.9 1398.0,1528.3 1414.5,1533.9C1431.0,1539.5 1465.2,1552.4 1481.7,1559.3C1498.2,1566.2 1502.9,1571.0 1513.5,1575.2C1524.1,1579.5 1532.0,1582.1 1545.3,1584.8C1558.5,1587.4 1577.0,1589.7 1592.9,1591.1C1608.8,1592.5 1632.7,1592.7 1640.6,1593.0M1196.0,1516.4C1203.3,1516.9 1227.1,1517.5 1239.7,1519.6C1252.3,1521.7 1260.9,1525.2 1271.5,1529.1C1282.1,1533.1 1292.7,1541.0 1303.3,1543.4C1313.8,1545.8 1321.8,1543.2 1335.0,1543.4C1348.3,1543.7 1369.5,1545.8 1382.7,1545.0C1396.0,1544.2 1395.4,1542.1 1414.5,1538.7C1433.6,1535.2 1475.8,1525.7 1497.6,1524.4C1519.4,1523.0 1529.4,1528.6 1545.3,1530.7C1561.1,1532.8 1577.0,1533.9 1592.9,1537.1C1608.8,1540.3 1625.5,1545.6 1640.6,1549.8C1655.7,1554.0 1676.4,1560.4 1683.5,1562.5M1196.0,1556.9C1203.3,1556.8 1224.4,1557.1 1239.7,1556.1C1254.9,1555.2 1275.4,1551.9 1287.4,1551.4C1299.3,1550.8 1303.3,1550.8 1311.2,1553.0C1319.1,1555.1 1328.4,1562.0 1335.0,1564.1C1341.7,1566.2 1343.0,1567.8 1350.9,1565.7C1358.9,1563.6 1372.1,1556.4 1382.7,1551.4C1393.3,1546.3 1395.4,1541.6 1414.5,1535.5C1433.6,1529.4 1474.5,1520.1 1497.6,1514.8C1520.7,1509.5 1537.3,1504.2 1553.2,1503.7C1569.1,1503.2 1581.0,1508.7 1592.9,1511.6C1604.9,1514.6 1609.6,1517.7 1624.7,1521.2C1639.8,1524.6 1673.7,1530.5 1683.5,1532.3M1196.0,1576.8C1203.3,1576.0 1224.4,1573.2 1239.7,1572.0C1254.9,1570.8 1271.5,1569.4 1287.4,1569.7C1303.3,1569.9 1321.8,1571.9 1335.0,1573.6C1348.3,1575.4 1356.2,1578.4 1366.8,1580.0C1377.4,1581.6 1380.8,1584.9 1398.6,1583.2C1416.4,1581.4 1457.2,1570.5 1473.7,1569.7C1490.2,1568.9 1488.3,1575.4 1497.6,1578.4C1506.8,1581.4 1518.8,1585.3 1529.4,1587.9C1540.0,1590.6 1555.8,1593.2 1561.1,1594.3M1311.2,1594.3C1316.5,1591.1 1331.1,1581.0 1343.0,1575.2C1354.9,1569.4 1370.8,1564.1 1382.7,1559.3C1394.6,1554.6 1400.7,1550.3 1414.5,1546.6C1428.3,1542.9 1451.9,1537.3 1465.8,1537.1C1479.6,1536.8 1484.3,1543.4 1497.6,1545.0C1510.8,1546.6 1532.0,1545.6 1545.3,1546.6C1558.5,1547.7 1563.8,1549.3 1577.0,1551.4C1590.3,1553.5 1607.0,1556.1 1624.7,1559.3C1642.5,1562.5 1673.7,1568.6 1683.5,1570.5M1331.9,1594.3C1337.7,1591.1 1355.7,1580.5 1366.8,1575.2C1378.0,1569.9 1388.0,1566.5 1398.6,1562.5C1409.2,1558.5 1416.6,1553.0 1430.4,1551.4C1444.2,1549.8 1467.8,1552.4 1481.7,1553.0C1495.5,1553.5 1500.2,1556.1 1513.5,1554.6C1526.7,1553.0 1547.9,1544.2 1561.1,1543.4C1574.4,1542.6 1579.7,1546.3 1592.9,1549.8C1606.2,1553.2 1625.5,1560.4 1640.6,1564.1C1655.7,1567.8 1676.4,1570.7 1683.5,1572.0M1358.9,1594.3C1362.9,1591.6 1373.4,1582.6 1382.7,1578.4C1392.0,1574.2 1400.7,1571.8 1414.5,1568.9C1428.3,1565.9 1449.3,1560.9 1465.8,1560.9C1482.3,1560.9 1497.6,1566.5 1513.5,1568.9C1529.4,1571.2 1545.3,1573.9 1561.1,1575.2C1577.0,1576.5 1592.9,1577.1 1608.8,1576.8C1624.7,1576.5 1644.1,1574.7 1656.5,1573.6C1669.0,1572.6 1679.0,1571.0 1683.5,1570.5M1366.8,1587.9C1374.8,1587.9 1395.4,1588.5 1414.5,1587.9C1433.6,1587.4 1467.8,1583.7 1481.7,1584.8C1495.5,1585.8 1494.9,1592.7 1497.6,1594.3" stroke="#DC0008" stroke-width="3.0" fill="none" stroke-linecap="round"/>
<path d="M1197.0,895.2H1204.0M1682.0,895.2H1675.0M1197.0,995.1H1204.0M1682.0,995.1H1675.0M1197.0,1095.0H1204.0M1682.0,1095.0H1675.0M1197.0,1194.9H1204.0M1682.0,1194.9H1675.0M1197.0,1294.8H1204.0M1682.0,1294.8H1675.0M1197.0,1394.7H1204.0M1682.0,1394.7H1675.0M1197.0,1494.6H1204.0M1682.0,1494.6H1675.0" stroke="#444" stroke-width="2" fill="none"/>
<rect x="1197.0" y="795.3" width="485.0" height="799.2" fill="none" stroke="#1c1c1c" stroke-width="2.4"/>
<path d="M1199.0,796.8V1593.0M1680.0,796.8V1593.0" stroke="#9a9ae0" stroke-width="1.3" fill="none"/>
<text transform="translate(89.5,802.3) scale(0.66,1)" font-family="DejaVu Sans, sans-serif" font-size="34" fill="#222" text-anchor="end">2.0</text>
<text transform="translate(89.5,902.4) scale(0.66,1)" font-family="DejaVu Sans, sans-serif" font-size="34" fill="#222" text-anchor="end">1.5</text>
<text transform="translate(89.5,1002.4) scale(0.66,1)" font-family="DejaVu Sans, sans-serif" font-size="34" fill="#222" text-anchor="end">1.0</text>
<text transform="translate(89.5,1102.5) scale(0.66,1)" font-family="DejaVu Sans, sans-serif" font-size="34" fill="#222" text-anchor="end">0.5</text>
<text transform="translate(89.5,1202.5) scale(0.66,1)" font-family="DejaVu Sans, sans-serif" font-size="34" fill="#222" text-anchor="end">0.0</text>
<text transform="translate(89.5,1302.6) scale(0.66,1)" font-family="DejaVu Sans, sans-serif" font-size="34" fill="#222" text-anchor="end">−0.5</text>
<text transform="translate(89.5,1402.7) scale(0.66,1)" font-family="DejaVu Sans, sans-serif" font-size="34" fill="#222" text-anchor="end">−1.0</text>
<text transform="translate(89.5,1502.7) scale(0.66,1)" font-family="DejaVu Sans, sans-serif" font-size="34" fill="#222" text-anchor="end">−1.5</text>
<text transform="translate(89.5,1602.8) scale(0.66,1)" font-family="DejaVu Sans, sans-serif" font-size="34" fill="#222" text-anchor="end">−2.0</text>
<text transform="translate(26,1194) rotate(-90) scale(1,1.02)" font-family="Liberation Serif, Times New Roman, serif" font-size="37" fill="#111" text-anchor="middle">E(eV)</text>
<text transform="translate(99.3,1634) scale(0.66,1)" font-family="Liberation Serif, Times New Roman, serif" font-size="40" fill="#111" text-anchor="middle">Γ</text>
<text transform="translate(582.0,1634) scale(0.66,1)" font-family="Liberation Serif, Times New Roman, serif" font-size="40" fill="#111" text-anchor="middle">Z</text>
<text transform="translate(642.3,1634) scale(0.66,1)" font-family="Liberation Serif, Times New Roman, serif" font-size="40" fill="#111" text-anchor="middle">Γ</text>
<text transform="translate(1135.8,1634) scale(0.66,1)" font-family="Liberation Serif, Times New Roman, serif" font-size="40" fill="#111" text-anchor="middle">Z</text>
<text transform="translate(1197.0,1634) scale(0.66,1)" font-family="Liberation Serif, Times New Roman, serif" font-size="40" fill="#111" text-anchor="middle">Γ</text>
<text transform="translate(1682.0,1634) scale(0.66,1)" font-family="Liberation Serif, Times New Roman, serif" font-size="40" fill="#111" text-anchor="middle">Z</text>
<text transform="translate(1690.5,1203.5) scale(0.62,1)" font-family="DejaVu Serif, serif" font-size="44" fill="#222">ϵ</text>
<text transform="translate(1703.5,1210.8) scale(0.88,1)" font-family="Liberation Serif, serif" font-size="31" fill="#222">F</text>
<text x="394.9" y="1111.9" font-family="Liberation Serif, Times New Roman, serif" font-weight="bold" font-size="40" fill="#000" textLength="130.8" lengthAdjust="spacingAndGlyphs">(30%P)</text>
<text x="955.3" y="1108.3" font-family="Liberation Serif, Times New Roman, serif" font-weight="bold" font-size="40" fill="#000" textLength="131.5" lengthAdjust="spacingAndGlyphs">(35%P)</text>
<text x="1508.3" y="1104.4" font-family="Liberation Serif, Times New Roman, serif" font-weight="bold" font-size="40" fill="#000" textLength="132.2" lengthAdjust="spacingAndGlyphs">(40%P)</text>
<text x="253.8" y="1260.7" font-family="DejaVu Serif, serif" fill="#0070C0" lengthAdjust="spacingAndGlyphs" font-size="37" font-style="italic" textLength="22">E</text>
<text x="275" y="1266.7" font-family="DejaVu Serif, serif" fill="#0070C0" lengthAdjust="spacingAndGlyphs" font-size="27" font-style="italic" textLength="16">g</text>
<text x="307.5" y="1266.2" font-family="Liberation Serif, serif" fill="#0070C0" font-size="50" textLength="28" lengthAdjust="spacingAndGlyphs">=</text>
<text x="348.4" y="1260.7" font-family="DejaVu Serif, serif" fill="#0070C0" lengthAdjust="spacingAndGlyphs" font-size="37" textLength="99">1.460</text>
<text x="456.5" y="1260.7" font-family="DejaVu Serif, serif" fill="#0070C0" lengthAdjust="spacingAndGlyphs" font-size="37" font-style="italic" textLength="42">eV</text>
<text x="841.5" y="1264.6" font-family="DejaVu Serif, serif" fill="#0070C0" lengthAdjust="spacingAndGlyphs" font-size="37" font-style="italic" textLength="22">E</text>
<text x="862.5" y="1270.6" font-family="DejaVu Serif, serif" fill="#0070C0" lengthAdjust="spacingAndGlyphs" font-size="27" font-style="italic" textLength="16">g</text>
<text x="894.5" y="1270.1" font-family="Liberation Serif, serif" fill="#0070C0" font-size="50" textLength="28" lengthAdjust="spacingAndGlyphs">=</text>
<text x="934.4" y="1264.6" font-family="DejaVu Serif, serif" fill="#0070C0" lengthAdjust="spacingAndGlyphs" font-size="37" textLength="99">1.802</text>
<text x="1043.4" y="1264.6" font-family="DejaVu Serif, serif" fill="#0070C0" lengthAdjust="spacingAndGlyphs" font-size="37" font-style="italic" textLength="42">eV</text>
<text x="1393.6" y="1252.7" font-family="DejaVu Serif, serif" fill="#0070C0" lengthAdjust="spacingAndGlyphs" font-size="37" font-style="italic" textLength="22">E</text>
<text x="1414.5" y="1258.7" font-family="DejaVu Serif, serif" fill="#0070C0" lengthAdjust="spacingAndGlyphs" font-size="27" font-style="italic" textLength="16">g</text>
<text x="1447.5" y="1258.2" font-family="Liberation Serif, serif" fill="#0070C0" font-size="50" textLength="28" lengthAdjust="spacingAndGlyphs">=</text>
<text x="1487.5" y="1252.7" font-family="DejaVu Serif, serif" fill="#0070C0" lengthAdjust="spacingAndGlyphs" font-size="37" textLength="99">1.812</text>
<text x="1596.4" y="1252.7" font-family="DejaVu Serif, serif" fill="#0070C0" lengthAdjust="spacingAndGlyphs" font-size="37" font-style="italic" textLength="42">eV</text>
<line x1="99.5" y1="1340.6" x2="374.7" y2="1068.2" stroke="#0070C0" stroke-width="3.4"/><polygon points="391.0,1052.0 382.0,1078.5 364.4,1060.7" fill="#0070C0"/>
<line x1="662.5" y1="1366.5" x2="662.5" y2="1025.0" stroke="#0070C0" stroke-width="3.4"/><polygon points="662.5,1002.0 675.0,1027.0 650.0,1027.0" fill="#0070C0"/>
<line x1="1197.5" y1="1366" x2="1490.1" y2="1020.5" stroke="#0070C0" stroke-width="3.4"/><polygon points="1505.0,1003.0 1498.4,1030.2 1479.3,1014.0" fill="#0070C0"/>
</svg>
</body></html>
